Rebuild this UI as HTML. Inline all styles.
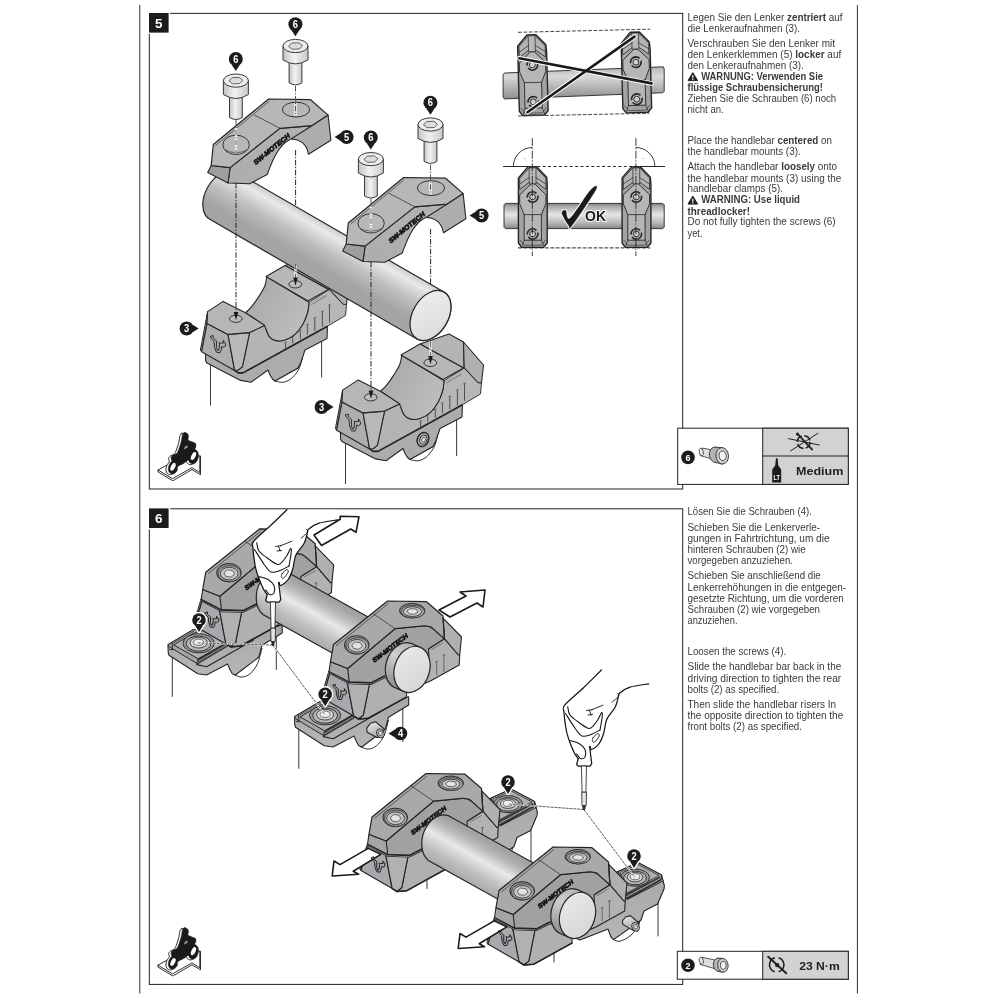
<!DOCTYPE html>
<html><head><meta charset="utf-8"><title>Montage</title>
<style>html,body{margin:0;padding:0;background:#fff}svg{display:block;will-change:transform}text{font-family:"Liberation Sans",sans-serif}</style>
</head><body>
<svg width="1000" height="1000" viewBox="0 0 1000 1000">
<rect width="1000" height="1000" fill="#fff"/>
<!-- p10_frame.py -->
<line x1="139.8" y1="5" x2="139.8" y2="993.5" stroke="#333" stroke-width="1"/>
<line x1="857.4" y1="5" x2="857.4" y2="993.5" stroke="#333" stroke-width="1"/>
<rect x="149.3" y="13.4" width="533.4" height="475.6" fill="#fff" stroke="#222" stroke-width="1"/>
<rect x="149.3" y="508.8" width="533.4" height="475.6" fill="#fff" stroke="#222" stroke-width="1"/>
<!-- p20_box5.py -->
<defs>
<linearGradient id="gTube5" gradientUnits="userSpaceOnUse" x1="340" y1="216" x2="313" y2="263">
<stop offset="0" stop-color="#a3a3a5"/><stop offset="0.16" stop-color="#b8b8ba"/><stop offset="0.39" stop-color="#e9e9eb"/><stop offset="0.68" stop-color="#bfbfc1"/><stop offset="1" stop-color="#a4a4a6"/></linearGradient>
<linearGradient id="gTubeEnd" x1="0" y1="0" x2="1" y2="1"><stop offset="0" stop-color="#eeeeef"/><stop offset="1" stop-color="#dadadc"/></linearGradient>
<linearGradient id="gSaddle" x1="0" y1="0" x2="1" y2="0.6"><stop offset="0" stop-color="#a6a6a9"/><stop offset="1" stop-color="#bdbdc0"/></linearGradient>
<linearGradient id="gSide" x1="0" y1="1" x2="1" y2="0"><stop offset="0" stop-color="#b2b2b5"/><stop offset="1" stop-color="#b8b8bb"/></linearGradient>
<linearGradient id="gClampF" x1="0" y1="1" x2="1" y2="0"><stop offset="0" stop-color="#adadb0"/><stop offset="1" stop-color="#b3b3b6"/></linearGradient>
<linearGradient id="gScrew" x1="0" y1="0" x2="1" y2="0"><stop offset="0" stop-color="#c4c4c4"/><stop offset="0.45" stop-color="#f2f2f2"/><stop offset="1" stop-color="#c9c9c9"/></linearGradient>
</defs>
<line x1="295.6" y1="150.0" x2="295.6" y2="205.0" stroke="#262626" stroke-width="1.0" stroke-dasharray="5.5 1.6 1.2 1.6"/>
<line x1="430.6" y1="229.0" x2="430.6" y2="292.0" stroke="#262626" stroke-width="1.0" stroke-dasharray="5.5 1.6 1.2 1.6"/>
<g transform="translate(0.0 0.0)">
<line x1="210.5" y1="360" x2="210.5" y2="405.5" stroke="#262626" stroke-width="0.9"/>
<line x1="321.6" y1="332" x2="321.6" y2="377.5" stroke="#262626" stroke-width="0.9"/>
<path d="M275.0 381.0 C276.3 381.2 280.3 382.7 283.0 382.3 C285.7 381.9 288.7 380.5 291.0 378.8 C293.3 377.1 295.4 374.2 297.0 372.0 C298.6 369.8 299.4 367.9 300.3 365.5 C301.2 363.1 302.1 358.8 302.5 357.5 L298 368 Z" fill="#fff" stroke="#262626" stroke-width="0.95" stroke-linejoin="round" stroke-linecap="round" />
<polygon points="205.4,347.1 205.6,360.7 207.0,363.1 240.6,380.4 251.0,382.3 268.0,370.0 270.0,375.0 272.5,379.0 275.0,381.0 298.0,368.0 301.0,362.0 302.5,357.5 305.0,350.0 327.0,338.5 327.5,325.0 300.0,330.0 250.0,350.0" fill="#acacaf" stroke="#262626" stroke-width="1.1" stroke-linejoin="round" />
<polygon points="285.0,265.5 314.0,255.5 328.5,263.5 329.2,289.5 328.5,289.5" fill="#b4b4b7" stroke="#262626" stroke-width="1.1" stroke-linejoin="round" />
<polygon points="328.5,263.5 348.5,286.5 346.5,304.5 343.0,304.3 329.2,289.5" fill="#b0b0b3" stroke="#262626" stroke-width="1.1" stroke-linejoin="round" />
<path d="M242.4 366.8 L249.6 332.6 L264.6 325.4  C264.7 325.8 264.6 325.7 265.4 327.6 C266.2 329.5 267.6 334.5 269.3 336.7 C271.0 338.9 273.2 340.1 275.8 340.6 C278.4 341.2 281.6 341.1 284.9 340.0 C288.1 338.9 292.3 336.8 295.3 334.1 C298.3 331.4 301.0 327.4 303.1 323.7 C305.2 320.0 306.7 315.6 307.7 312.0 C308.7 308.4 308.8 303.9 309.0 302.3 L329.2 289.5 L343.0 304.3 L346.5 304.5 L345.5 315.5 L327.0 326.5 L285 349.6 L243 372.8 L238 372.8 L234.6 370.4 Z" fill="url(#gSide)" stroke="#262626" stroke-width="0.9" stroke-linejoin="round"/>
<polyline points="234.6,370.4 238.2,372.9 243.0,372.9 285.0,349.8 327.0,326.5" fill="none" stroke="#262626" stroke-width="1.6" stroke-linejoin="round" stroke-linecap="round" />
<path d="M266.7 276.9 C266.4 278.4 266.1 282.8 264.8 286.0 C263.5 289.2 261.1 292.9 258.9 296.4 C256.7 299.9 253.7 304.1 251.4 306.8 C249.2 309.5 246.4 311.8 245.4 312.8 L264.6 325.4 C264.7 325.8 264.6 325.7 265.4 327.6 C266.2 329.5 267.6 334.5 269.3 336.7 C271.0 338.9 273.2 340.1 275.8 340.6 C278.4 341.2 281.6 341.1 284.9 340.0 C288.1 338.9 292.3 336.8 295.3 334.1 C298.3 331.4 301.0 327.4 303.1 323.7 C305.2 320.0 306.7 315.6 307.7 312.0 C308.7 308.4 308.8 303.9 309.0 302.3 Z" fill="url(#gSaddle)" stroke="#262626" stroke-width="1.1" stroke-linejoin="round" stroke-linecap="round" />
<polygon points="266.0,276.5 285.0,265.5 328.5,289.5 308.0,301.0" fill="#b7b7ba" stroke="#262626" stroke-width="1.1" stroke-linejoin="round" />
<polygon points="207.6,311.6 207.0,323.6 201.6,351.8 200.4,350.0" fill="#97979a" stroke="#262626" stroke-width="0.95" stroke-linejoin="round" />
<polygon points="207.0,323.6 228.0,334.4 234.6,370.4 201.6,351.8" fill="#aeaeb1" stroke="#262626" stroke-width="1.1" stroke-linejoin="round" />
<polygon points="228.0,334.4 249.6,332.6 242.4,366.8 238.2,370.2 234.6,370.4" fill="#b9b9bc" stroke="#262626" stroke-width="1.1" stroke-linejoin="round" />
<polygon points="207.6,311.6 223.2,301.4 245.4,312.8 264.6,325.4 249.6,332.6 228.0,334.4 207.0,323.6" fill="#b6b6b9" stroke="#262626" stroke-width="1.1" stroke-linejoin="round" />
<ellipse cx="235.8" cy="318.8" rx="6.3" ry="3.6" fill="#bdbdc0" stroke="#262626" stroke-width="0.9"/>
<ellipse cx="295.3" cy="284.3" rx="6.4" ry="3.7" fill="#bdbdc0" stroke="#262626" stroke-width="0.9"/>
<line x1="285.6" y1="343.4" x2="285.6" y2="349.0" stroke="#444" stroke-width="0.9"/>
<line x1="284.4" y1="343.1" x2="286.8" y2="342.1" stroke="#444" stroke-width="0.9"/>
<line x1="292.7" y1="337.6" x2="292.7" y2="343.2" stroke="#444" stroke-width="0.9"/>
<line x1="291.5" y1="337.3" x2="293.9" y2="336.3" stroke="#444" stroke-width="0.9"/>
<line x1="300.3" y1="331.7" x2="300.3" y2="339.3" stroke="#444" stroke-width="0.9"/>
<line x1="299.1" y1="331.4" x2="301.5" y2="330.4" stroke="#444" stroke-width="0.9"/>
<line x1="307.4" y1="325.2" x2="307.4" y2="334.8" stroke="#444" stroke-width="0.9"/>
<line x1="306.2" y1="324.9" x2="308.6" y2="323.9" stroke="#444" stroke-width="0.9"/>
<line x1="314.8" y1="318.7" x2="314.8" y2="330.9" stroke="#444" stroke-width="0.9"/>
<line x1="313.6" y1="318.4" x2="316.0" y2="317.4" stroke="#444" stroke-width="0.9"/>
<line x1="322.4" y1="312.2" x2="322.4" y2="327.0" stroke="#444" stroke-width="0.9"/>
<line x1="321.2" y1="311.9" x2="323.6" y2="310.9" stroke="#444" stroke-width="0.9"/>
<line x1="329.5" y1="305.7" x2="329.5" y2="322.4" stroke="#444" stroke-width="0.9"/>
<line x1="328.3" y1="305.4" x2="330.7" y2="304.4" stroke="#444" stroke-width="0.9"/>
<line x1="311.5" y1="304.5" x2="326.5" y2="295.5" stroke="#666" stroke-width="1.1" stroke-dasharray="1.2 0.7"/>
<polygon points="213.2,335.6 210.2,336.4 211.6,339.0 214.0,341.4 214.6,347.4 216.4,352.2 220.0,352.8 221.0,350.6 221.6,346.6 223.4,347.2 225.8,345.6 225.0,342.6 223.2,340.4 223.6,343.0 220.8,343.2 219.2,342.6 219.6,344.2 218.8,350.2 217.6,350.6 216.4,347.4 216.6,341.0 213.2,338.2" fill="none" stroke="#1f1f1f" stroke-width="0.9" stroke-linejoin="round" />
</g>
<g transform="translate(135.0 78.5)">
<line x1="210.5" y1="360" x2="210.5" y2="405.5" stroke="#262626" stroke-width="0.9"/>
<line x1="321.6" y1="332" x2="321.6" y2="377.5" stroke="#262626" stroke-width="0.9"/>
<path d="M275.0 381.0 C276.3 381.2 280.3 382.7 283.0 382.3 C285.7 381.9 288.7 380.5 291.0 378.8 C293.3 377.1 295.4 374.2 297.0 372.0 C298.6 369.8 299.4 367.9 300.3 365.5 C301.2 363.1 302.1 358.8 302.5 357.5 L298 368 Z" fill="#fff" stroke="#262626" stroke-width="0.95" stroke-linejoin="round" stroke-linecap="round" />
<polygon points="205.4,347.1 205.6,360.7 207.0,363.1 240.6,380.4 251.0,382.3 268.0,370.0 270.0,375.0 272.5,379.0 275.0,381.0 298.0,368.0 301.0,362.0 302.5,357.5 305.0,350.0 327.0,338.5 327.5,325.0 300.0,330.0 250.0,350.0" fill="#acacaf" stroke="#262626" stroke-width="1.1" stroke-linejoin="round" />
<ellipse cx="288.0" cy="361.0" rx="5.6" ry="7.2" transform="rotate(25 288.0 361.0)" fill="#b0b0b0" stroke="#262626" stroke-width="1.4"/>
<ellipse cx="288.4" cy="361.0" rx="3.5" ry="4.6" transform="rotate(25 288.0 361.0)" fill="#c6c6c6" stroke="#262626" stroke-width="0.9"/>
<ellipse cx="288.6" cy="361.0" rx="1.8" ry="2.5" transform="rotate(25 288.0 361.0)" fill="#e2e2e2" stroke="#262626" stroke-width="0.6"/>
<polygon points="285.0,265.5 314.0,255.5 328.5,263.5 329.2,289.5 328.5,289.5" fill="#b4b4b7" stroke="#262626" stroke-width="1.1" stroke-linejoin="round" />
<polygon points="328.5,263.5 348.5,286.5 346.5,304.5 343.0,304.3 329.2,289.5" fill="#b0b0b3" stroke="#262626" stroke-width="1.1" stroke-linejoin="round" />
<path d="M242.4 366.8 L249.6 332.6 L264.6 325.4  C264.7 325.8 264.6 325.7 265.4 327.6 C266.2 329.5 267.6 334.5 269.3 336.7 C271.0 338.9 273.2 340.1 275.8 340.6 C278.4 341.2 281.6 341.1 284.9 340.0 C288.1 338.9 292.3 336.8 295.3 334.1 C298.3 331.4 301.0 327.4 303.1 323.7 C305.2 320.0 306.7 315.6 307.7 312.0 C308.7 308.4 308.8 303.9 309.0 302.3 L329.2 289.5 L343.0 304.3 L346.5 304.5 L345.5 315.5 L327.0 326.5 L285 349.6 L243 372.8 L238 372.8 L234.6 370.4 Z" fill="url(#gSide)" stroke="#262626" stroke-width="0.9" stroke-linejoin="round"/>
<polyline points="234.6,370.4 238.2,372.9 243.0,372.9 285.0,349.8 327.0,326.5" fill="none" stroke="#262626" stroke-width="1.6" stroke-linejoin="round" stroke-linecap="round" />
<path d="M266.7 276.9 C266.4 278.4 266.1 282.8 264.8 286.0 C263.5 289.2 261.1 292.9 258.9 296.4 C256.7 299.9 253.7 304.1 251.4 306.8 C249.2 309.5 246.4 311.8 245.4 312.8 L264.6 325.4 C264.7 325.8 264.6 325.7 265.4 327.6 C266.2 329.5 267.6 334.5 269.3 336.7 C271.0 338.9 273.2 340.1 275.8 340.6 C278.4 341.2 281.6 341.1 284.9 340.0 C288.1 338.9 292.3 336.8 295.3 334.1 C298.3 331.4 301.0 327.4 303.1 323.7 C305.2 320.0 306.7 315.6 307.7 312.0 C308.7 308.4 308.8 303.9 309.0 302.3 Z" fill="url(#gSaddle)" stroke="#262626" stroke-width="1.1" stroke-linejoin="round" stroke-linecap="round" />
<polygon points="266.0,276.5 285.0,265.5 328.5,289.5 308.0,301.0" fill="#b7b7ba" stroke="#262626" stroke-width="1.1" stroke-linejoin="round" />
<polygon points="207.6,311.6 207.0,323.6 201.6,351.8 200.4,350.0" fill="#97979a" stroke="#262626" stroke-width="0.95" stroke-linejoin="round" />
<polygon points="207.0,323.6 228.0,334.4 234.6,370.4 201.6,351.8" fill="#aeaeb1" stroke="#262626" stroke-width="1.1" stroke-linejoin="round" />
<polygon points="228.0,334.4 249.6,332.6 242.4,366.8 238.2,370.2 234.6,370.4" fill="#b9b9bc" stroke="#262626" stroke-width="1.1" stroke-linejoin="round" />
<polygon points="207.6,311.6 223.2,301.4 245.4,312.8 264.6,325.4 249.6,332.6 228.0,334.4 207.0,323.6" fill="#b6b6b9" stroke="#262626" stroke-width="1.1" stroke-linejoin="round" />
<ellipse cx="235.8" cy="318.8" rx="6.3" ry="3.6" fill="#bdbdc0" stroke="#262626" stroke-width="0.9"/>
<ellipse cx="295.3" cy="284.3" rx="6.4" ry="3.7" fill="#bdbdc0" stroke="#262626" stroke-width="0.9"/>
<line x1="285.6" y1="343.4" x2="285.6" y2="349.0" stroke="#444" stroke-width="0.9"/>
<line x1="284.4" y1="343.1" x2="286.8" y2="342.1" stroke="#444" stroke-width="0.9"/>
<line x1="292.7" y1="337.6" x2="292.7" y2="343.2" stroke="#444" stroke-width="0.9"/>
<line x1="291.5" y1="337.3" x2="293.9" y2="336.3" stroke="#444" stroke-width="0.9"/>
<line x1="300.3" y1="331.7" x2="300.3" y2="339.3" stroke="#444" stroke-width="0.9"/>
<line x1="299.1" y1="331.4" x2="301.5" y2="330.4" stroke="#444" stroke-width="0.9"/>
<line x1="307.4" y1="325.2" x2="307.4" y2="334.8" stroke="#444" stroke-width="0.9"/>
<line x1="306.2" y1="324.9" x2="308.6" y2="323.9" stroke="#444" stroke-width="0.9"/>
<line x1="314.8" y1="318.7" x2="314.8" y2="330.9" stroke="#444" stroke-width="0.9"/>
<line x1="313.6" y1="318.4" x2="316.0" y2="317.4" stroke="#444" stroke-width="0.9"/>
<line x1="322.4" y1="312.2" x2="322.4" y2="327.0" stroke="#444" stroke-width="0.9"/>
<line x1="321.2" y1="311.9" x2="323.6" y2="310.9" stroke="#444" stroke-width="0.9"/>
<line x1="329.5" y1="305.7" x2="329.5" y2="322.4" stroke="#444" stroke-width="0.9"/>
<line x1="328.3" y1="305.4" x2="330.7" y2="304.4" stroke="#444" stroke-width="0.9"/>
<line x1="311.5" y1="304.5" x2="326.5" y2="295.5" stroke="#666" stroke-width="1.1" stroke-dasharray="1.2 0.7"/>
<polygon points="213.2,335.6 210.2,336.4 211.6,339.0 214.0,341.4 214.6,347.4 216.4,352.2 220.0,352.8 221.0,350.6 221.6,346.6 223.4,347.2 225.8,345.6 225.0,342.6 223.2,340.4 223.6,343.0 220.8,343.2 219.2,342.6 219.6,344.2 218.8,350.2 217.6,350.6 216.4,347.4 216.6,341.0 213.2,338.2" fill="none" stroke="#1f1f1f" stroke-width="0.9" stroke-linejoin="round" />
</g>
<path d="M236.8 172.5 L444.0 292.1 A17.8 27.0 30 0 1 417.0 338.9 L209.8 219.3 A17.8 27.0 30 0 1 236.8 172.5 Z" fill="url(#gTube5)" stroke="#262626" stroke-width="1.2"/><ellipse cx="430.5" cy="315.5" rx="17.8" ry="27.0" transform="rotate(30 430.5 315.5)" fill="url(#gTubeEnd)" stroke="#262626" stroke-width="1.2"/>
<line x1="236.0" y1="183.0" x2="236.0" y2="313.5" stroke="#262626" stroke-width="1.0" stroke-dasharray="5.5 1.6 1.2 1.6"/><polygon points="233.7,312.0 238.3,312.0 236.0,320.3" fill="#1a1a1a"/>
<line x1="295.5" y1="266" x2="295.5" y2="281" stroke="#fff" stroke-width="2"/>
<line x1="295.5" y1="264.0" x2="295.5" y2="279.0" stroke="#666" stroke-width="1.0" stroke-dasharray="5.5 1.6 1.2 1.6"/><polygon points="293.2,277.5 297.8,277.5 295.5,285.8" fill="#1a1a1a"/>
<line x1="371.0" y1="262.0" x2="371.0" y2="392.0" stroke="#262626" stroke-width="1.0" stroke-dasharray="5.5 1.6 1.2 1.6"/><polygon points="368.7,390.5 373.3,390.5 371.0,398.8" fill="#1a1a1a"/>
<line x1="430.5" y1="342" x2="430.5" y2="359" stroke="#fff" stroke-width="2"/>
<line x1="430.5" y1="342.0" x2="430.5" y2="357.5" stroke="#777" stroke-width="1.0" stroke-dasharray="5.5 1.6 1.2 1.6"/><polygon points="428.2,356.0 432.8,356.0 430.5,364.3" fill="#1a1a1a"/>
<g transform="translate(0.0 0.0)">
<path d="M312.0 125.6 L328.1 115.1 L330.9 140.3 L308.5 154.3 L308.5 154.3 C308.2 153.3 307.6 150.1 306.7 148.3 C305.7 146.4 304.5 144.5 302.9 143.1 C301.3 141.7 299.3 140.6 297.3 139.9 C295.3 139.2 292.0 139.1 291.0 138.9 Z" fill="#adadb0" stroke="#262626" stroke-width="1.1" stroke-linejoin="round" stroke-linecap="round" />
<path d="M267.2 174.6 L249.7 183.7 L228.0 183.0 L230.1 167.6 L279.8 128.4 L312.0 125.6 L291.0 138.9 L291.0 138.9 C289.8 139.7 286.1 141.5 284.0 143.5 C281.9 145.5 280.0 148.0 278.1 150.8 C276.3 153.6 274.3 157.4 272.8 160.6 C271.3 163.8 269.8 167.8 268.9 170.1 C267.9 172.5 267.5 173.9 267.2 174.6 Z" fill="url(#gClampF)" stroke="#262626" stroke-width="1.1" stroke-linejoin="round" stroke-linecap="round" />
<polygon points="211.2,165.5 230.1,167.6 228.0,183.0 207.7,172.5" fill="#9e9ea1" stroke="#262626" stroke-width="1.1" stroke-linejoin="round" />
<polygon points="213.3,144.5 268.6,99.0 310.6,99.7 328.1,115.1 312.0,125.6 279.8,128.4 230.1,167.6 211.2,165.5" fill="#b7b7ba" stroke="#262626" stroke-width="1.2" stroke-linejoin="round" />
<polyline points="254.6,115.1 280.1,128.4" fill="none" stroke="#262626" stroke-width="0.7" stroke-linejoin="round" stroke-linecap="round" />
<polyline points="215.7,145.5 268.9,101.5" fill="none" stroke="#262626" stroke-width="0.6" stroke-linejoin="round" stroke-linecap="round" />
<ellipse cx="236.1" cy="144.8" rx="13.2" ry="9.6" fill="#b7b7ba" stroke="#262626" stroke-width="0.9"/>
<path d="M225.1 150.0 A13.2 9.6 0 0 0 247.1 150.0 A14 7 0 0 1 225.1 150.0 Z" fill="#cfcfd2" stroke="#262626" stroke-width="0.6"/>
<ellipse cx="296.0" cy="109.6" rx="13.6" ry="7.4" fill="#b7b7ba" stroke="#262626" stroke-width="0.9"/>
<text x="0" y="0" transform="translate(255.7 165.1) rotate(-39.4)" font-size="6.6" font-weight="bold" font-style="italic" fill="#161616" stroke="#161616" stroke-width="0.7" textLength="45" lengthAdjust="spacingAndGlyphs">SW-MOTECH</text>
</g>
<g transform="translate(135.0 78.5)">
<path d="M312.0 125.6 L328.1 115.1 L330.9 140.3 L308.5 154.3 L308.5 154.3 C308.2 153.3 307.6 150.1 306.7 148.3 C305.7 146.4 304.5 144.5 302.9 143.1 C301.3 141.7 299.3 140.6 297.3 139.9 C295.3 139.2 292.0 139.1 291.0 138.9 Z" fill="#adadb0" stroke="#262626" stroke-width="1.1" stroke-linejoin="round" stroke-linecap="round" />
<path d="M267.2 174.6 L249.7 183.7 L228.0 183.0 L230.1 167.6 L279.8 128.4 L312.0 125.6 L291.0 138.9 L291.0 138.9 C289.8 139.7 286.1 141.5 284.0 143.5 C281.9 145.5 280.0 148.0 278.1 150.8 C276.3 153.6 274.3 157.4 272.8 160.6 C271.3 163.8 269.8 167.8 268.9 170.1 C267.9 172.5 267.5 173.9 267.2 174.6 Z" fill="url(#gClampF)" stroke="#262626" stroke-width="1.1" stroke-linejoin="round" stroke-linecap="round" />
<polygon points="211.2,165.5 230.1,167.6 228.0,183.0 207.7,172.5" fill="#9e9ea1" stroke="#262626" stroke-width="1.1" stroke-linejoin="round" />
<polygon points="213.3,144.5 268.6,99.0 310.6,99.7 328.1,115.1 312.0,125.6 279.8,128.4 230.1,167.6 211.2,165.5" fill="#b7b7ba" stroke="#262626" stroke-width="1.2" stroke-linejoin="round" />
<polyline points="254.6,115.1 280.1,128.4" fill="none" stroke="#262626" stroke-width="0.7" stroke-linejoin="round" stroke-linecap="round" />
<polyline points="215.7,145.5 268.9,101.5" fill="none" stroke="#262626" stroke-width="0.6" stroke-linejoin="round" stroke-linecap="round" />
<ellipse cx="236.1" cy="144.8" rx="13.2" ry="9.6" fill="#b7b7ba" stroke="#262626" stroke-width="0.9"/>
<path d="M225.1 150.0 A13.2 9.6 0 0 0 247.1 150.0 A14 7 0 0 1 225.1 150.0 Z" fill="#cfcfd2" stroke="#262626" stroke-width="0.6"/>
<ellipse cx="296.0" cy="109.6" rx="13.6" ry="7.4" fill="#b7b7ba" stroke="#262626" stroke-width="0.9"/>
<text x="0" y="0" transform="translate(255.7 165.1) rotate(-39.4)" font-size="6.6" font-weight="bold" font-style="italic" fill="#161616" stroke="#161616" stroke-width="0.7" textLength="45" lengthAdjust="spacingAndGlyphs">SW-MOTECH</text>
</g>
<line x1="236.0" y1="128.0" x2="236.0" y2="153.0" stroke="#fff" stroke-width="2.2"/>
<line x1="295.5" y1="103.0" x2="295.5" y2="116.0" stroke="#fff" stroke-width="2.2"/>
<line x1="236.0" y1="120.0" x2="236.0" y2="154.0" stroke="#555" stroke-width="1.0" stroke-dasharray="5.5 1.6 1.2 1.6"/>
<line x1="295.5" y1="86.0" x2="295.5" y2="116.0" stroke="#555" stroke-width="1.0" stroke-dasharray="5.5 1.6 1.2 1.6"/>
<path d="M229.5 96.0 L229.5 117.5 Q235.9 121.5 242.3 117.5 L242.3 96.0 Z" fill="url(#gScrew)" stroke="#262626" stroke-width="0.9"/><path d="M223.4 80.5 L223.4 94.5 Q235.9 102.5 248.4 94.5 L248.4 80.5 Z" fill="url(#gScrew)" stroke="#262626" stroke-width="0.9"/><ellipse cx="235.9" cy="80.6" rx="12.5" ry="6.6" fill="#ededed" stroke="#262626" stroke-width="0.9"/><polygon points="228.9,80.8 232.3,77.6 239.3,77.4 242.9,80.2 239.7,83.6 232.5,83.8" fill="#dcdcdc" stroke="#444" stroke-width="0.8" stroke-linejoin="round" />
<path d="M289.1 61.4 L289.1 82.9 Q295.5 86.9 301.9 82.9 L301.9 61.4 Z" fill="url(#gScrew)" stroke="#262626" stroke-width="0.9"/><path d="M283.0 45.9 L283.0 59.9 Q295.5 67.9 308.0 59.9 L308.0 45.9 Z" fill="url(#gScrew)" stroke="#262626" stroke-width="0.9"/><ellipse cx="295.5" cy="46.0" rx="12.5" ry="6.6" fill="#ededed" stroke="#262626" stroke-width="0.9"/><polygon points="288.5,46.2 291.9,43.0 298.9,42.8 302.5,45.6 299.3,49.0 292.1,49.2" fill="#dcdcdc" stroke="#444" stroke-width="0.8" stroke-linejoin="round" />
<circle cx="235.8" cy="59.0" r="7.0" fill="#1c1c1c"/><polygon points="239.9,64.7 235.8,71.0 231.7,64.7" fill="#1c1c1c"/><text x="235.8" y="62.5" font-size="10" font-weight="bold" fill="#fff" text-anchor="middle" textLength="5.2" lengthAdjust="spacingAndGlyphs">6</text>
<circle cx="295.4" cy="24.2" r="7.0" fill="#1c1c1c"/><polygon points="299.5,29.9 295.4,36.2 291.3,29.9" fill="#1c1c1c"/><text x="295.4" y="27.7" font-size="10" font-weight="bold" fill="#fff" text-anchor="middle" textLength="5.2" lengthAdjust="spacingAndGlyphs">6</text>
<circle cx="346.6" cy="137.0" r="7.0" fill="#1c1c1c"/><polygon points="340.9,141.1 334.6,137.0 340.9,132.9" fill="#1c1c1c"/><text x="346.6" y="140.5" font-size="10" font-weight="bold" fill="#fff" text-anchor="middle" textLength="5.2" lengthAdjust="spacingAndGlyphs">5</text>
<circle cx="186.6" cy="328.5" r="7.0" fill="#1c1c1c"/><polygon points="192.3,324.4 198.6,328.5 192.3,332.6" fill="#1c1c1c"/><text x="186.6" y="332.0" font-size="10" font-weight="bold" fill="#fff" text-anchor="middle" textLength="5.2" lengthAdjust="spacingAndGlyphs">3</text>
<line x1="371.0" y1="206.5" x2="371.0" y2="231.5" stroke="#fff" stroke-width="2.2"/>
<line x1="430.5" y1="181.5" x2="430.5" y2="194.5" stroke="#fff" stroke-width="2.2"/>
<line x1="371.0" y1="198.5" x2="371.0" y2="232.5" stroke="#555" stroke-width="1.0" stroke-dasharray="5.5 1.6 1.2 1.6"/>
<line x1="430.5" y1="164.5" x2="430.5" y2="194.5" stroke="#555" stroke-width="1.0" stroke-dasharray="5.5 1.6 1.2 1.6"/>
<path d="M364.5 174.5 L364.5 196.0 Q370.9 200.0 377.3 196.0 L377.3 174.5 Z" fill="url(#gScrew)" stroke="#262626" stroke-width="0.9"/><path d="M358.4 159.0 L358.4 173.0 Q370.9 181.0 383.4 173.0 L383.4 159.0 Z" fill="url(#gScrew)" stroke="#262626" stroke-width="0.9"/><ellipse cx="370.9" cy="159.1" rx="12.5" ry="6.6" fill="#ededed" stroke="#262626" stroke-width="0.9"/><polygon points="363.9,159.3 367.3,156.1 374.3,155.9 377.9,158.7 374.7,162.1 367.5,162.3" fill="#dcdcdc" stroke="#444" stroke-width="0.8" stroke-linejoin="round" />
<path d="M424.1 139.9 L424.1 161.4 Q430.5 165.4 436.9 161.4 L436.9 139.9 Z" fill="url(#gScrew)" stroke="#262626" stroke-width="0.9"/><path d="M418.0 124.4 L418.0 138.4 Q430.5 146.4 443.0 138.4 L443.0 124.4 Z" fill="url(#gScrew)" stroke="#262626" stroke-width="0.9"/><ellipse cx="430.5" cy="124.5" rx="12.5" ry="6.6" fill="#ededed" stroke="#262626" stroke-width="0.9"/><polygon points="423.5,124.7 426.9,121.5 433.9,121.3 437.5,124.1 434.3,127.5 427.1,127.7" fill="#dcdcdc" stroke="#444" stroke-width="0.8" stroke-linejoin="round" />
<circle cx="370.8" cy="137.5" r="7.0" fill="#1c1c1c"/><polygon points="374.9,143.2 370.8,149.5 366.7,143.2" fill="#1c1c1c"/><text x="370.8" y="141.0" font-size="10" font-weight="bold" fill="#fff" text-anchor="middle" textLength="5.2" lengthAdjust="spacingAndGlyphs">6</text>
<circle cx="430.4" cy="102.7" r="7.0" fill="#1c1c1c"/><polygon points="434.5,108.4 430.4,114.7 426.3,108.4" fill="#1c1c1c"/><text x="430.4" y="106.2" font-size="10" font-weight="bold" fill="#fff" text-anchor="middle" textLength="5.2" lengthAdjust="spacingAndGlyphs">6</text>
<circle cx="481.6" cy="215.5" r="7.0" fill="#1c1c1c"/><polygon points="475.9,219.6 469.6,215.5 475.9,211.4" fill="#1c1c1c"/><text x="481.6" y="219.0" font-size="10" font-weight="bold" fill="#fff" text-anchor="middle" textLength="5.2" lengthAdjust="spacingAndGlyphs">5</text>
<circle cx="321.6" cy="407.0" r="7.0" fill="#1c1c1c"/><polygon points="327.3,402.9 333.6,407.0 327.3,411.1" fill="#1c1c1c"/><text x="321.6" y="410.5" font-size="10" font-weight="bold" fill="#fff" text-anchor="middle" textLength="5.2" lengthAdjust="spacingAndGlyphs">3</text>
<g transform="translate(0.0 0.0)"><polygon points="158.0,470.0 165.0,466.1 192.0,455.0 199.8,456.0 200.5,456.0 200.5,474.7 192.0,469.6 173.4,480.5 172.3,480.5 158.0,471.9" fill="#fff" stroke="#1a1a1a" stroke-width="0.9" stroke-linejoin="round" /><polyline points="158.0,470.0 172.5,478.7 192.0,467.7 199.8,472.6 199.8,456.0" fill="none" stroke="#1a1a1a" stroke-width="0.9" stroke-linejoin="round" stroke-linecap="round" /><path d="M181.9 433.3 C182.7 433.1 184.3 433.7 185.0 434.3 C185.7 435.0 186.0 436.1 186.1 437.1 C186.2 438.2 185.2 439.8 185.7 440.6 C186.3 441.5 188.4 442.0 189.6 442.5 C190.8 443.1 192.5 443.3 193.1 444.1 C193.7 445.0 193.6 446.7 193.4 447.6 C193.3 448.6 192.1 449.0 192.4 449.7 C192.7 450.5 194.6 451.0 195.2 452.2 C195.8 453.4 196.2 455.5 196.0 457.1 C195.9 458.7 195.2 460.7 194.4 462.0 C193.5 463.3 192.1 464.4 191.0 464.7 C189.9 464.9 188.4 464.2 187.5 463.5 C186.6 462.9 186.8 460.9 185.7 460.9 C184.7 461.0 182.9 463.1 181.2 464.1 C179.5 465.1 176.7 465.7 175.6 466.9 C174.5 468.1 175.4 469.8 174.8 471.1 C174.1 472.4 172.7 474.0 171.5 474.5 C170.3 474.9 168.5 474.6 167.5 473.8 C166.6 473.0 166.0 471.2 165.9 469.7 C165.9 468.2 166.5 466.1 167.1 464.8 C167.6 463.5 169.0 463.0 169.3 462.0 C169.6 460.9 168.4 459.5 168.6 458.5 C168.8 457.4 169.8 456.4 170.7 455.7 C171.6 455.0 173.3 455.2 174.2 454.3 C175.1 453.4 175.6 451.8 176.3 450.1 C177.0 448.3 177.9 445.7 178.4 443.8 C178.9 441.9 179.2 440.3 179.4 438.9 C179.7 437.5 179.7 436.3 180.1 435.4 C180.6 434.5 181.1 433.5 181.9 433.3Z" fill="#fff" stroke="#1a1a1a" stroke-width="0.9" stroke-linejoin="round" stroke-linecap="round" /><path d="M184.3 432.6 C185.1 432.4 186.7 433.0 187.4 433.6 C188.1 434.3 188.4 435.4 188.5 436.4 C188.6 437.5 187.6 439.1 188.1 439.9 C188.7 440.8 190.8 441.3 192.0 441.8 C193.2 442.4 194.9 442.6 195.5 443.4 C196.1 444.3 196.0 446.0 195.8 446.9 C195.7 447.9 194.5 448.3 194.8 449.0 C195.1 449.8 197.0 450.3 197.6 451.5 C198.2 452.7 198.6 454.8 198.4 456.4 C198.3 458.0 197.6 460.0 196.8 461.3 C195.9 462.6 194.5 463.7 193.4 464.0 C192.3 464.2 190.8 463.5 189.9 462.8 C189.0 462.2 189.2 460.2 188.1 460.2 C187.1 460.3 185.3 462.4 183.6 463.4 C181.9 464.4 179.1 465.0 178.0 466.2 C176.9 467.4 177.8 469.1 177.2 470.4 C176.5 471.7 175.1 473.3 173.9 473.8 C172.7 474.2 170.9 473.9 169.9 473.1 C169.0 472.3 168.4 470.5 168.3 469.0 C168.3 467.5 168.9 465.4 169.5 464.1 C170.0 462.8 171.4 462.3 171.7 461.3 C172.0 460.2 170.8 458.8 171.0 457.8 C171.2 456.7 172.2 455.7 173.1 455.0 C174.0 454.3 175.7 454.5 176.6 453.6 C177.5 452.7 178.0 451.1 178.7 449.4 C179.4 447.6 180.3 445.0 180.8 443.1 C181.3 441.2 181.6 439.6 181.8 438.2 C182.1 436.8 182.1 435.6 182.5 434.7 C183.0 433.8 183.5 432.8 184.3 432.6Z" fill="#1a1a1a" stroke="#1a1a1a" stroke-width="0.5" stroke-linejoin="round" stroke-linecap="round" /><ellipse cx="173.0" cy="466.8" rx="2.1" ry="4.2" transform="rotate(27 173.0 466.8)" fill="#fff"/><ellipse cx="193.5" cy="456.0" rx="2.1" ry="4.3" transform="rotate(24 193.5 456.0)" fill="#fff"/><polyline points="184.6,448.8 185.7,446.2 187.4,446.5 186.7,447.9 185.3,447.9" fill="none" stroke="#fff" stroke-width="0.6" stroke-linejoin="round" stroke-linecap="round" /></g>
<!-- p30_insets.py -->
<defs>
<linearGradient id="gTubeH" x1="0" y1="0" x2="0" y2="1"><stop offset="0" stop-color="#7c7c7c"/><stop offset="0.12" stop-color="#aaaaaa"/><stop offset="0.45" stop-color="#e6e6e8"/><stop offset="0.8" stop-color="#b2b2b4"/><stop offset="1" stop-color="#858585"/></linearGradient>
<linearGradient id="gTubeH2" x1="0" y1="0" x2="0" y2="1"><stop offset="0" stop-color="#b4b4b6"/><stop offset="0.3" stop-color="#d9d9db"/><stop offset="1" stop-color="#8e8e90"/></linearGradient>
</defs>
<polygon points="504.4,73.0 663.3,66.8 664.2,69.0 664.2,91.5 662.4,92.8 504.4,98.9 503.1,96.9 503.1,74.8" fill="url(#gTubeH2)" stroke="#262626" stroke-width="0.9" stroke-linejoin="round" />
<g transform="rotate(-1.5 532 75)"><polygon points="527.9,34.8 536.9,34.8 546.7,45.1 547.2,51.9 547.2,110.9 543.6,115.3 521.6,115.3 518.4,110.9 518.4,45.8" fill="#a3a3a6" stroke="#262626" stroke-width="1.4" stroke-linejoin="round" /><polygon points="529.2,35.7 536.0,35.7 545.9,46.1 545.9,57.3 536.8,50.5 528.8,50.5 519.7,57.3 519.7,46.1" fill="#b4b4b7" stroke="#262626" stroke-width="0.8" stroke-linejoin="round" /><polygon points="529.2,35.7 536.0,35.7 536.0,51.9 529.2,51.9" fill="#b9b9bc" stroke="#262626" stroke-width="0.7" stroke-linejoin="round" /><polyline points="519.7,51.9 529.2,45.6" fill="none" stroke="#262626" stroke-width="0.7" stroke-linejoin="round" stroke-linecap="round" /><polyline points="545.9,51.9 536.0,45.6" fill="none" stroke="#262626" stroke-width="0.7" stroke-linejoin="round" stroke-linecap="round" /><polygon points="531.0,51.9 535.0,51.9 545.9,62.7 545.9,71.7 541.4,82.5 541.4,108.1 524.2,108.1 524.2,82.5 519.7,71.7 519.7,62.7" fill="#b6b6b9" stroke="#262626" stroke-width="0.9" stroke-linejoin="round" /><polyline points="524.2,82.5 541.4,82.5" fill="none" stroke="#262626" stroke-width="0.8" stroke-linejoin="round" stroke-linecap="round" /><polyline points="522.0,114.0 524.2,108.1" fill="none" stroke="#262626" stroke-width="0.7" stroke-linejoin="round" stroke-linecap="round" /><polyline points="543.6,114.0 541.4,108.1" fill="none" stroke="#262626" stroke-width="0.7" stroke-linejoin="round" stroke-linecap="round" /><polyline points="520.2,108.1 524.2,113.1 541.4,113.1 545.4,108.1" fill="none" stroke="#262626" stroke-width="0.6" stroke-linejoin="round" stroke-linecap="round" /><circle cx="532.6" cy="64.9" r="5.3" fill="#b6b6b9" stroke="#262626" stroke-width="1.6" stroke-dasharray="13 2.5"/><circle cx="532.6" cy="64.9" r="2.9" fill="#d2d2d4" stroke="#262626" stroke-width="0.9"/><circle cx="532.6" cy="101.9" r="5.3" fill="#b6b6b9" stroke="#262626" stroke-width="1.6" stroke-dasharray="13 2.5"/><circle cx="532.6" cy="101.9" r="2.9" fill="#d2d2d4" stroke="#262626" stroke-width="0.9"/></g>
<g transform="rotate(-1.5 636 72)"><polygon points="631.4,32.1 640.4,32.1 650.1,42.4 650.7,49.2 650.7,108.2 647.1,112.6 625.1,112.6 621.9,108.2 621.9,43.1" fill="#a3a3a6" stroke="#262626" stroke-width="1.4" stroke-linejoin="round" /><polygon points="632.7,33.0 639.5,33.0 649.4,43.4 649.4,54.6 640.2,47.8 632.3,47.8 623.1,54.6 623.1,43.4" fill="#b4b4b7" stroke="#262626" stroke-width="0.8" stroke-linejoin="round" /><polygon points="632.7,33.0 639.5,33.0 639.5,49.2 632.7,49.2" fill="#b9b9bc" stroke="#262626" stroke-width="0.7" stroke-linejoin="round" /><polyline points="623.1,49.2 632.7,42.9" fill="none" stroke="#262626" stroke-width="0.7" stroke-linejoin="round" stroke-linecap="round" /><polyline points="649.4,49.2 639.5,42.9" fill="none" stroke="#262626" stroke-width="0.7" stroke-linejoin="round" stroke-linecap="round" /><polygon points="634.5,49.2 638.4,49.2 649.4,60.0 649.4,69.0 644.9,79.8 644.9,105.4 627.6,105.4 627.6,79.8 623.1,69.0 623.1,60.0" fill="#b6b6b9" stroke="#262626" stroke-width="0.9" stroke-linejoin="round" /><polyline points="627.6,79.8 644.9,79.8" fill="none" stroke="#262626" stroke-width="0.8" stroke-linejoin="round" stroke-linecap="round" /><polyline points="625.5,111.3 627.6,105.4" fill="none" stroke="#262626" stroke-width="0.7" stroke-linejoin="round" stroke-linecap="round" /><polyline points="647.1,111.3 644.9,105.4" fill="none" stroke="#262626" stroke-width="0.7" stroke-linejoin="round" stroke-linecap="round" /><polyline points="623.7,105.4 627.6,110.4 644.9,110.4 648.9,105.4" fill="none" stroke="#262626" stroke-width="0.6" stroke-linejoin="round" stroke-linecap="round" /><circle cx="636.1" cy="62.2" r="5.3" fill="#b6b6b9" stroke="#262626" stroke-width="1.6" stroke-dasharray="13 2.5"/><circle cx="636.1" cy="62.2" r="2.9" fill="#d2d2d4" stroke="#262626" stroke-width="0.9"/><circle cx="636.1" cy="99.2" r="5.3" fill="#b6b6b9" stroke="#262626" stroke-width="1.6" stroke-dasharray="13 2.5"/><circle cx="636.1" cy="99.2" r="2.9" fill="#d2d2d4" stroke="#262626" stroke-width="0.9"/></g>
<polyline points="518.4,32.3 649.8,29.2" fill="none" stroke="#444" stroke-width="1.0" stroke-linejoin="round" stroke-linecap="round" stroke-dasharray="3 2.4"/>
<polyline points="518.4,116.0 648.9,113.3" fill="none" stroke="#444" stroke-width="1.0" stroke-linejoin="round" stroke-linecap="round" stroke-dasharray="3 2.4"/>
<line x1="519.3" y1="58.2" x2="651.6" y2="83.4" stroke="#fff" stroke-width="4.6" stroke-linecap="round"/>
<line x1="527.4" y1="112.2" x2="634.5" y2="36.6" stroke="#fff" stroke-width="4.6" stroke-linecap="round"/>
<line x1="519.3" y1="58.2" x2="651.6" y2="83.4" stroke="#1a1a1a" stroke-width="2.6" stroke-linecap="round"/>
<line x1="527.4" y1="112.2" x2="634.5" y2="36.6" stroke="#1a1a1a" stroke-width="2.6" stroke-linecap="round"/>
<polygon points="505.4,203.4 662.7,203.4 664.2,204.9 664.2,227.2 662.7,228.6 505.4,228.6 504.0,227.2 504.0,204.9" fill="url(#gTubeH)" stroke="#262626" stroke-width="0.9" stroke-linejoin="round" />
<polygon points="527.9,166.9 536.9,166.9 546.7,177.2 547.2,184.0 547.2,243.0 543.6,247.4 521.6,247.4 518.4,243.0 518.4,177.9" fill="#a3a3a6" stroke="#262626" stroke-width="1.4" stroke-linejoin="round" /><polygon points="529.2,167.8 536.0,167.8 545.9,178.2 545.9,189.4 536.8,182.6 528.8,182.6 519.7,189.4 519.7,178.2" fill="#b4b4b7" stroke="#262626" stroke-width="0.8" stroke-linejoin="round" /><polygon points="529.2,167.8 536.0,167.8 536.0,184.0 529.2,184.0" fill="#b9b9bc" stroke="#262626" stroke-width="0.7" stroke-linejoin="round" /><polyline points="519.7,184.0 529.2,177.7" fill="none" stroke="#262626" stroke-width="0.7" stroke-linejoin="round" stroke-linecap="round" /><polyline points="545.9,184.0 536.0,177.7" fill="none" stroke="#262626" stroke-width="0.7" stroke-linejoin="round" stroke-linecap="round" /><polygon points="531.0,184.0 535.0,184.0 545.9,194.8 545.9,203.8 541.4,214.6 541.4,240.2 524.2,240.2 524.2,214.6 519.7,203.8 519.7,194.8" fill="#b6b6b9" stroke="#262626" stroke-width="0.9" stroke-linejoin="round" /><polyline points="524.2,214.6 541.4,214.6" fill="none" stroke="#262626" stroke-width="0.8" stroke-linejoin="round" stroke-linecap="round" /><polyline points="522.0,246.1 524.2,240.2" fill="none" stroke="#262626" stroke-width="0.7" stroke-linejoin="round" stroke-linecap="round" /><polyline points="543.6,246.1 541.4,240.2" fill="none" stroke="#262626" stroke-width="0.7" stroke-linejoin="round" stroke-linecap="round" /><polyline points="520.2,240.2 524.2,245.2 541.4,245.2 545.4,240.2" fill="none" stroke="#262626" stroke-width="0.6" stroke-linejoin="round" stroke-linecap="round" /><circle cx="532.6" cy="197.0" r="5.3" fill="#b6b6b9" stroke="#262626" stroke-width="1.6" stroke-dasharray="13 2.5"/><circle cx="532.6" cy="197.0" r="2.9" fill="#d2d2d4" stroke="#262626" stroke-width="0.9"/><circle cx="532.6" cy="234.0" r="5.3" fill="#b6b6b9" stroke="#262626" stroke-width="1.6" stroke-dasharray="13 2.5"/><circle cx="532.6" cy="234.0" r="2.9" fill="#d2d2d4" stroke="#262626" stroke-width="0.9"/>
<polygon points="631.6,166.9 640.6,166.9 650.3,177.2 650.9,184.0 650.9,243.0 647.3,247.4 625.3,247.4 622.1,243.0 622.1,177.9" fill="#a3a3a6" stroke="#262626" stroke-width="1.4" stroke-linejoin="round" /><polygon points="632.9,167.8 639.7,167.8 649.6,178.2 649.6,189.4 640.4,182.6 632.5,182.6 623.3,189.4 623.3,178.2" fill="#b4b4b7" stroke="#262626" stroke-width="0.8" stroke-linejoin="round" /><polygon points="632.9,167.8 639.7,167.8 639.7,184.0 632.9,184.0" fill="#b9b9bc" stroke="#262626" stroke-width="0.7" stroke-linejoin="round" /><polyline points="623.3,184.0 632.9,177.7" fill="none" stroke="#262626" stroke-width="0.7" stroke-linejoin="round" stroke-linecap="round" /><polyline points="649.6,184.0 639.7,177.7" fill="none" stroke="#262626" stroke-width="0.7" stroke-linejoin="round" stroke-linecap="round" /><polygon points="634.7,184.0 638.6,184.0 649.6,194.8 649.6,203.8 645.1,214.6 645.1,240.2 627.8,240.2 627.8,214.6 623.3,203.8 623.3,194.8" fill="#b6b6b9" stroke="#262626" stroke-width="0.9" stroke-linejoin="round" /><polyline points="627.8,214.6 645.1,214.6" fill="none" stroke="#262626" stroke-width="0.8" stroke-linejoin="round" stroke-linecap="round" /><polyline points="625.7,246.1 627.8,240.2" fill="none" stroke="#262626" stroke-width="0.7" stroke-linejoin="round" stroke-linecap="round" /><polyline points="647.3,246.1 645.1,240.2" fill="none" stroke="#262626" stroke-width="0.7" stroke-linejoin="round" stroke-linecap="round" /><polyline points="623.9,240.2 627.8,245.2 645.1,245.2 649.1,240.2" fill="none" stroke="#262626" stroke-width="0.6" stroke-linejoin="round" stroke-linecap="round" /><circle cx="636.3" cy="197.0" r="5.3" fill="#b6b6b9" stroke="#262626" stroke-width="1.6" stroke-dasharray="13 2.5"/><circle cx="636.3" cy="197.0" r="2.9" fill="#d2d2d4" stroke="#262626" stroke-width="0.9"/><circle cx="636.3" cy="234.0" r="5.3" fill="#b6b6b9" stroke="#262626" stroke-width="1.6" stroke-dasharray="13 2.5"/><circle cx="636.3" cy="234.0" r="2.9" fill="#d2d2d4" stroke="#262626" stroke-width="0.9"/>
<line x1="503.1" y1="166.5" x2="537.3" y2="166.5" stroke="#262626" stroke-width="1"/>
<line x1="537.3" y1="166.5" x2="633.6" y2="166.5" stroke="#262626" stroke-width="1" stroke-dasharray="3 2.4"/>
<line x1="633.6" y1="166.5" x2="665.1" y2="166.5" stroke="#262626" stroke-width="1"/>
<polyline points="518.4,247.9 649.8,247.9" fill="none" stroke="#262626" stroke-width="1.0" stroke-linejoin="round" stroke-linecap="round" stroke-dasharray="3 2.4"/>
<line x1="532.3" y1="138.1" x2="532.3" y2="256.0" stroke="#262626" stroke-width="0.9" stroke-dasharray="8 1.6 1.4 1.6"/>
<line x1="635.9" y1="138.1" x2="635.9" y2="256.0" stroke="#262626" stroke-width="0.9" stroke-dasharray="8 1.6 1.4 1.6"/>
<path d="M513.3 166.5 A19 19 0 0 1 532.3 147.5" fill="none" stroke="#262626" stroke-width="0.9"/>
<circle cx="524.8" cy="158.5" r="0.6" fill="#888"/>
<path d="M635.9 147.5 A19 19 0 0 1 654.9 166.5" fill="none" stroke="#262626" stroke-width="0.9"/>
<circle cx="643.4" cy="158.5" r="0.6" fill="#888"/>
<path d="M562.0 213.2 C561.5 210.8 564.2 209.8 565.6 210.6 C566.9 211.5 566.1 221.6 570.2 218.2 C574.4 214.8 586.1 195.0 590.4 190.3 C594.7 185.6 598.8 184.0 595.8 189.8 C592.8 195.5 577.0 219.2 572.4 225.0 C567.8 230.9 570.2 227.0 568.4 225.0 C566.7 223.1 562.4 215.6 562.0 213.2Z" fill="#1a1a1a" stroke="#fff" stroke-width="2.4" stroke-linejoin="round" stroke-linecap="round" />
<path d="M562.0 213.2 C561.5 210.8 564.2 209.8 565.6 210.6 C566.9 211.5 566.1 221.6 570.2 218.2 C574.4 214.8 586.1 195.0 590.4 190.3 C594.7 185.6 598.8 184.0 595.8 189.8 C592.8 195.5 577.0 219.2 572.4 225.0 C567.8 230.9 570.2 227.0 568.4 225.0 C566.7 223.1 562.4 215.6 562.0 213.2Z" fill="#1a1a1a" stroke="#1a1a1a" stroke-width="0.4" stroke-linejoin="round" stroke-linecap="round" />
<text x="585.0" y="220.9" font-size="15.5" font-weight="bold" fill="#1a1a1a" stroke="#fff" stroke-width="2" stroke-linejoin="round" paint-order="stroke" textLength="21" lengthAdjust="spacingAndGlyphs">OK</text>
<!-- p40_box6.py -->
<defs>
<linearGradient id="gTube6a" gradientUnits="userSpaceOnUse" x1="352" y1="613" x2="328" y2="655.6">
<stop offset="0" stop-color="#a3a3a5"/><stop offset="0.16" stop-color="#b8b8ba"/><stop offset="0.39" stop-color="#e9e9eb"/><stop offset="0.68" stop-color="#bfbfc1"/><stop offset="1" stop-color="#a4a4a6"/></linearGradient>
<linearGradient id="gTube6b" gradientUnits="userSpaceOnUse" x1="517.5" y1="859" x2="493.5" y2="901.6">
<stop offset="0" stop-color="#a3a3a5"/><stop offset="0.16" stop-color="#b8b8ba"/><stop offset="0.39" stop-color="#e9e9eb"/><stop offset="0.68" stop-color="#bfbfc1"/><stop offset="1" stop-color="#a4a4a6"/></linearGradient>
<linearGradient id="gCapSide" x1="0" y1="0" x2="0" y2="1"><stop offset="0" stop-color="#b5b5b5"/><stop offset="0.35" stop-color="#cfcfcf"/><stop offset="1" stop-color="#8c8c8c"/></linearGradient>
<linearGradient id="gCapFace" x1="0" y1="0" x2="1" y2="1"><stop offset="0" stop-color="#eaeaea"/><stop offset="1" stop-color="#d4d4d4"/></linearGradient>
<linearGradient id="gPin" x1="0" y1="0" x2="0.5" y2="1"><stop offset="0" stop-color="#f0f0f0"/><stop offset="1" stop-color="#a8a8a8"/></linearGradient>
<linearGradient id="gBaseF" x1="0" y1="0" x2="0" y2="1"><stop offset="0" stop-color="#a6a6a8"/><stop offset="1" stop-color="#b6b6b8"/></linearGradient>
</defs>
<polygon points="314.0,535.0 340.2,519.2 340.2,516.2 359.0,516.7 356.0,532.3 350.7,529.0 321.5,545.5" fill="#fff" stroke="#1a1a1a" stroke-width="1.6" stroke-linejoin="round" />
<polygon points="439.0,610.0 466.0,596.0 460.0,592.0 485.0,590.0 483.0,607.0 477.0,603.0 450.0,617.0" fill="#fff" stroke="#1a1a1a" stroke-width="1.6" stroke-linejoin="round" />
<g transform="translate(-126.5 -72.0)">
<line x1="298.8" y1="728" x2="298.8" y2="768.8" stroke="#242424" stroke-width="0.9"/>
<line x1="402.8" y1="700" x2="402.8" y2="742" stroke="#242424" stroke-width="0.9"/>
<path d="M361.2 747.0 C362.4 747.3 365.7 749.3 368.2 749.1 C370.8 748.9 373.9 748.0 376.5 745.8 C379.1 743.6 382.0 740.0 384.0 735.7 C386.0 731.4 387.7 722.6 388.5 720.0 L381.0 730.5 Z" fill="#fff" stroke="#242424" stroke-width="0.95" stroke-linejoin="round" stroke-linecap="round" />
<polygon points="294.5,716.6 319.7,701.8 353.0,700.4 380.0,705.8 408.7,696.7 408.7,705.0 388.5,717.3 385.2,729.3 361.8,747.0 358.8,745.8 356.5,741.7 354.0,735.9 333.0,747.0 324.3,745.8 295.5,727.2 294.7,724.5" fill="url(#gBaseF)" stroke="#242424" stroke-width="1.1" stroke-linejoin="round" />
<polygon points="294.5,716.6 319.7,701.8 331.4,701.3 353.0,714.4 353.0,715.9 324.2,732.1 323.5,735.5 295.4,718.6" fill="#a4a4a6" stroke="#242424" stroke-width="0.95" stroke-linejoin="round" />
<polygon points="300.1,716.9 321.1,704.7 331.0,702.2 352.6,714.8 324.7,730.8" fill="#b0b0b2" stroke="#242424" stroke-width="0.95" stroke-linejoin="round" />
<polyline points="298.6,715.5 299.0,722.0 296.3,721.3" fill="none" stroke="#242424" stroke-width="0.95" stroke-linejoin="round" stroke-linecap="round" />
<polyline points="298.6,715.5 320.2,703.4" fill="none" stroke="#242424" stroke-width="0.6" stroke-linejoin="round" stroke-linecap="round" />
<polygon points="324.7,730.8 353.0,714.8 354.4,718.0 323.3,736.6" fill="#3c3c3c" stroke="#242424" stroke-width="0.6" stroke-linejoin="round" />
<polyline points="324.2,733.9 353.7,716.6" fill="none" stroke="#b0b0b0" stroke-width="0.9" stroke-linejoin="round" stroke-linecap="round" stroke-dasharray="0.6 0.8"/>
<polyline points="323.3,736.6 333.2,738.7 380.0,711.9" fill="none" stroke="#242424" stroke-width="1.1" stroke-linejoin="round" stroke-linecap="round" />
<ellipse cx="325.1" cy="715.3" rx="15.6" ry="9.6" fill="#9a9a9c" stroke="#242424" stroke-width="0.9"/>
<ellipse cx="325.1" cy="715.6" rx="12.4" ry="7.6" fill="#b9b9b9" stroke="#242424" stroke-width="0.9"/>
<ellipse cx="325.1" cy="714.7" rx="8.6" ry="5.3" fill="#d6d6d6" stroke="#242424" stroke-width="0.8"/>
<ellipse cx="325.1" cy="714.3" rx="5.2" ry="3.2" fill="#efefef" stroke="#444" stroke-width="0.7"/>
</g>
<g transform="translate(-127.8 -72.2)">
<polygon points="443.0,618.1 461.5,637.0 459.7,655.0 458.3,655.0 444.4,638.8" fill="#b0b0b3" stroke="#242424" stroke-width="1.1" stroke-linejoin="round" />
<polygon points="428.6,648.7 444.4,638.8 458.3,655.0 459.7,655.0 459.2,664.9 430.4,681.1 407.0,691.0 407.0,664.0" fill="#b2b2b5" stroke="#242424" stroke-width="1.1" stroke-linejoin="round" />
<polyline points="436.7,661.8 436.7,674.8" fill="none" stroke="#555" stroke-width="0.8" stroke-linejoin="round" stroke-linecap="round" />
<polyline points="435.6,662.1 437.8,661.4" fill="none" stroke="#555" stroke-width="0.8" stroke-linejoin="round" stroke-linecap="round" />
<polyline points="443.9,655.0 443.9,671.7" fill="none" stroke="#555" stroke-width="0.8" stroke-linejoin="round" stroke-linecap="round" />
<polyline points="442.8,655.4 445.0,654.6" fill="none" stroke="#555" stroke-width="0.8" stroke-linejoin="round" stroke-linecap="round" />
<polyline points="431.8,649.4 443.0,642.9" fill="none" stroke="#666" stroke-width="0.9" stroke-linejoin="round" stroke-linecap="round" stroke-dasharray="1.2 0.8"/>
<polygon points="369.9,681.9 382.5,675.3 406.5,682.5 406.5,697.1 368.1,718.3 358.5,719.1 363.3,715.1" fill="#b0b0b3" stroke="#242424" stroke-width="1.1" stroke-linejoin="round" />
<polygon points="328.3,672.9 329.9,673.1 322.5,698.1 321.3,697.1" fill="#8f8f92" stroke="#242424" stroke-width="0.95" stroke-linejoin="round" />
<polygon points="329.9,673.1 347.1,681.9 353.7,716.1 322.5,698.1" fill="#a9a9ad" stroke="#242424" stroke-width="1.1" stroke-linejoin="round" />
<polygon points="347.1,681.9 369.9,681.9 363.3,715.1 358.5,718.7 353.7,716.1" fill="#b1b1b4" stroke="#242424" stroke-width="1.1" stroke-linejoin="round" />
<polyline points="353.7,716.1 358.5,719.1 368.1,718.3 406.5,697.1" fill="none" stroke="#242424" stroke-width="1.5" stroke-linejoin="round" stroke-linecap="round" />
</g>
<g transform="translate(-127.8 -72.2)">
<path d="M349.2 683.8 L329.0 673.0 L329.0 671.5 L347.7 668.5 L395.0 628.7 L424.1 625.8 C425.2 625.9 428.4 625.9 430.4 626.9 C432.4 627.9 433.9 629.6 436.3 631.6 C438.6 633.6 443.0 637.6 444.4 638.8 L428.6 648.7 L429.1 667.6 L407.0 682.0 L384.5 677.8 L371.0 684.5 Z" fill="#a1a1a3" stroke="#242424" stroke-width="1.1" stroke-linejoin="round" stroke-linecap="round" />
<polyline points="329.0,672.5 349.2,683.0 371.0,683.8 384.5,677.0" fill="none" stroke="#c4c4c6" stroke-width="0.8" stroke-linejoin="round" stroke-linecap="round" />
<polyline points="329.0,671.6 349.2,682.1 371.0,682.9 384.5,676.1" fill="none" stroke="#242424" stroke-width="1.7" stroke-linejoin="round" stroke-linecap="round" />
<polygon points="330.5,661.7 347.7,668.5 349.2,682.0 329.0,671.5" fill="#a5a5a8" stroke="#242424" stroke-width="1.1" stroke-linejoin="round" />
<path d="M395.0 628.7 L347.7 668.5 L330.5 661.7 L333.5 644.5 L387.5 601.0 L426.5 601.7 L443.0 616.0 L444.4 638.8 L444.4 638.8 C443.0 637.6 438.6 633.6 436.3 631.6 C433.9 629.6 432.4 627.9 430.4 626.9 C428.4 625.9 425.2 625.9 424.1 625.8 Z" fill="#a9a9ab" stroke="#242424" stroke-width="1.2" stroke-linejoin="round" stroke-linecap="round" />
<polyline points="373.2,613.7 395.0,628.7" fill="none" stroke="#242424" stroke-width="0.7" stroke-linejoin="round" stroke-linecap="round" />
<polyline points="336.2,645.7 388.2,603.7" fill="none" stroke="#242424" stroke-width="0.6" stroke-linejoin="round" stroke-linecap="round" />
<polyline points="443.0,618.1 444.4,638.8" fill="none" stroke="#242424" stroke-width="0.95" stroke-linejoin="round" stroke-linecap="round" />
<ellipse cx="356.7" cy="644.9" rx="12.3" ry="9.2" fill="#8e8e90" stroke="#242424" stroke-width="1.0"/><ellipse cx="357.3" cy="645.8" rx="11.3" ry="8.1" fill="#a9a9ab" stroke="#242424" stroke-width="0.7"/><ellipse cx="357.0" cy="645.8" rx="8.9" ry="6.3" fill="#c6c6c8" stroke="#242424" stroke-width="0.8"/><polygon points="362.4,646.3 358.9,649.3 353.6,648.6 351.7,645.0 355.2,642.0 360.5,642.7" fill="#e4e4e4" stroke="#333" stroke-width="0.7" stroke-linejoin="round" />
<ellipse cx="412.2" cy="610.7" rx="12.7" ry="7.2" fill="#8e8e90" stroke="#242424" stroke-width="1.0"/><ellipse cx="412.8" cy="611.6" rx="11.7" ry="6.3" fill="#a9a9ab" stroke="#242424" stroke-width="0.7"/><ellipse cx="412.5" cy="611.6" rx="9.1" ry="4.9" fill="#c6c6c8" stroke="#242424" stroke-width="0.8"/><polygon points="418.0,612.0 414.5,614.3 409.0,613.8 407.0,610.9 410.6,608.6 416.1,609.1" fill="#e4e4e4" stroke="#333" stroke-width="0.7" stroke-linejoin="round" />
<text x="0" y="0" transform="translate(374.3 662.8) rotate(-37.3)" font-size="6.3" font-weight="bold" font-style="italic" fill="#161616" stroke="#161616" stroke-width="0.7" textLength="43" lengthAdjust="spacingAndGlyphs">SW-MOTECH</text>
</g>
<path d="M286.6 571.8 L423.9 648.0 L400.1 690.8 L262.9 614.5 A17.5 24.5 17.7 0 1 286.6 571.8 Z" fill="url(#gTube6a)" stroke="#242424" stroke-width="1.2"/>
<g transform="translate(0.0 0.0)">
<line x1="298.8" y1="728" x2="298.8" y2="768.8" stroke="#242424" stroke-width="0.9"/>
<line x1="402.8" y1="700" x2="402.8" y2="742" stroke="#242424" stroke-width="0.9"/>
<path d="M361.2 747.0 C362.4 747.3 365.7 749.3 368.2 749.1 C370.8 748.9 373.9 748.0 376.5 745.8 C379.1 743.6 382.0 740.0 384.0 735.7 C386.0 731.4 387.7 722.6 388.5 720.0 L381.0 730.5 Z" fill="#fff" stroke="#242424" stroke-width="0.95" stroke-linejoin="round" stroke-linecap="round" />
<polygon points="294.5,716.6 319.7,701.8 353.0,700.4 380.0,705.8 408.7,696.7 408.7,705.0 388.5,717.3 385.2,729.3 361.8,747.0 358.8,745.8 356.5,741.7 354.0,735.9 333.0,747.0 324.3,745.8 295.5,727.2 294.7,724.5" fill="url(#gBaseF)" stroke="#242424" stroke-width="1.1" stroke-linejoin="round" />
<polygon points="294.5,716.6 319.7,701.8 331.4,701.3 353.0,714.4 353.0,715.9 324.2,732.1 323.5,735.5 295.4,718.6" fill="#a4a4a6" stroke="#242424" stroke-width="0.95" stroke-linejoin="round" />
<polygon points="300.1,716.9 321.1,704.7 331.0,702.2 352.6,714.8 324.7,730.8" fill="#b0b0b2" stroke="#242424" stroke-width="0.95" stroke-linejoin="round" />
<polyline points="298.6,715.5 299.0,722.0 296.3,721.3" fill="none" stroke="#242424" stroke-width="0.95" stroke-linejoin="round" stroke-linecap="round" />
<polyline points="298.6,715.5 320.2,703.4" fill="none" stroke="#242424" stroke-width="0.6" stroke-linejoin="round" stroke-linecap="round" />
<polygon points="324.7,730.8 353.0,714.8 354.4,718.0 323.3,736.6" fill="#3c3c3c" stroke="#242424" stroke-width="0.6" stroke-linejoin="round" />
<polyline points="324.2,733.9 353.7,716.6" fill="none" stroke="#b0b0b0" stroke-width="0.9" stroke-linejoin="round" stroke-linecap="round" stroke-dasharray="0.6 0.8"/>
<polyline points="323.3,736.6 333.2,738.7 380.0,711.9" fill="none" stroke="#242424" stroke-width="1.1" stroke-linejoin="round" stroke-linecap="round" />
<ellipse cx="325.1" cy="715.3" rx="15.6" ry="9.6" fill="#9a9a9c" stroke="#242424" stroke-width="0.9"/>
<ellipse cx="325.1" cy="715.6" rx="12.4" ry="7.6" fill="#b9b9b9" stroke="#242424" stroke-width="0.9"/>
<ellipse cx="325.1" cy="714.7" rx="8.6" ry="5.3" fill="#d6d6d6" stroke="#242424" stroke-width="0.8"/>
<ellipse cx="325.1" cy="714.3" rx="5.2" ry="3.2" fill="#efefef" stroke="#444" stroke-width="0.7"/>
<polygon points="366.7,728.2 370.5,723.3 375.7,721.8 384.3,729.0 382.2,736.8 376.8,737.4 367.2,732.3" fill="url(#gPin)" stroke="#242424" stroke-width="1.1" stroke-linejoin="round" />
<ellipse cx="380.4" cy="733.3" rx="3.6" ry="4.6" transform="rotate(-25 380.4 733.3)" fill="#b5b5b5" stroke="#242424" stroke-width="0.9"/>
<ellipse cx="380.4" cy="733.3" rx="1.8" ry="2.4" transform="rotate(-25 380.4 733.3)" fill="#dcdcdc" stroke="#242424" stroke-width="0.6"/>
</g>
<g transform="translate(0.0 0.0)">
<polygon points="443.0,618.1 461.5,637.0 459.7,655.0 458.3,655.0 444.4,638.8" fill="#b0b0b3" stroke="#242424" stroke-width="1.1" stroke-linejoin="round" />
<polygon points="428.6,648.7 444.4,638.8 458.3,655.0 459.7,655.0 459.2,664.9 430.4,681.1 407.0,691.0 407.0,664.0" fill="#b2b2b5" stroke="#242424" stroke-width="1.1" stroke-linejoin="round" />
<polyline points="436.7,661.8 436.7,674.8" fill="none" stroke="#555" stroke-width="0.8" stroke-linejoin="round" stroke-linecap="round" />
<polyline points="435.6,662.1 437.8,661.4" fill="none" stroke="#555" stroke-width="0.8" stroke-linejoin="round" stroke-linecap="round" />
<polyline points="443.9,655.0 443.9,671.7" fill="none" stroke="#555" stroke-width="0.8" stroke-linejoin="round" stroke-linecap="round" />
<polyline points="442.8,655.4 445.0,654.6" fill="none" stroke="#555" stroke-width="0.8" stroke-linejoin="round" stroke-linecap="round" />
<polyline points="431.8,649.4 443.0,642.9" fill="none" stroke="#666" stroke-width="0.9" stroke-linejoin="round" stroke-linecap="round" stroke-dasharray="1.2 0.8"/>
<polygon points="369.9,681.9 382.5,675.3 406.5,682.5 406.5,697.1 368.1,718.3 358.5,719.1 363.3,715.1" fill="#b0b0b3" stroke="#242424" stroke-width="1.1" stroke-linejoin="round" />
<polygon points="328.3,672.9 329.9,673.1 322.5,698.1 321.3,697.1" fill="#8f8f92" stroke="#242424" stroke-width="0.95" stroke-linejoin="round" />
<polygon points="329.9,673.1 347.1,681.9 353.7,716.1 322.5,698.1" fill="#a9a9ad" stroke="#242424" stroke-width="1.1" stroke-linejoin="round" />
<polygon points="347.1,681.9 369.9,681.9 363.3,715.1 358.5,718.7 353.7,716.1" fill="#b1b1b4" stroke="#242424" stroke-width="1.1" stroke-linejoin="round" />
<polyline points="353.7,716.1 358.5,719.1 368.1,718.3 406.5,697.1" fill="none" stroke="#242424" stroke-width="1.5" stroke-linejoin="round" stroke-linecap="round" />
</g>
<g transform="translate(0.0 0.0)">
<path d="M349.2 683.8 L329.0 673.0 L329.0 671.5 L347.7 668.5 L395.0 628.7 L424.1 625.8 C425.2 625.9 428.4 625.9 430.4 626.9 C432.4 627.9 433.9 629.6 436.3 631.6 C438.6 633.6 443.0 637.6 444.4 638.8 L428.6 648.7 L429.1 667.6 L407.0 682.0 L384.5 677.8 L371.0 684.5 Z" fill="#a1a1a3" stroke="#242424" stroke-width="1.1" stroke-linejoin="round" stroke-linecap="round" />
<polyline points="329.0,672.5 349.2,683.0 371.0,683.8 384.5,677.0" fill="none" stroke="#c4c4c6" stroke-width="0.8" stroke-linejoin="round" stroke-linecap="round" />
<polyline points="329.0,671.6 349.2,682.1 371.0,682.9 384.5,676.1" fill="none" stroke="#242424" stroke-width="1.7" stroke-linejoin="round" stroke-linecap="round" />
<polygon points="330.5,661.7 347.7,668.5 349.2,682.0 329.0,671.5" fill="#a5a5a8" stroke="#242424" stroke-width="1.1" stroke-linejoin="round" />
<path d="M395.0 628.7 L347.7 668.5 L330.5 661.7 L333.5 644.5 L387.5 601.0 L426.5 601.7 L443.0 616.0 L444.4 638.8 L444.4 638.8 C443.0 637.6 438.6 633.6 436.3 631.6 C433.9 629.6 432.4 627.9 430.4 626.9 C428.4 625.9 425.2 625.9 424.1 625.8 Z" fill="#a9a9ab" stroke="#242424" stroke-width="1.2" stroke-linejoin="round" stroke-linecap="round" />
<polyline points="373.2,613.7 395.0,628.7" fill="none" stroke="#242424" stroke-width="0.7" stroke-linejoin="round" stroke-linecap="round" />
<polyline points="336.2,645.7 388.2,603.7" fill="none" stroke="#242424" stroke-width="0.6" stroke-linejoin="round" stroke-linecap="round" />
<polyline points="443.0,618.1 444.4,638.8" fill="none" stroke="#242424" stroke-width="0.95" stroke-linejoin="round" stroke-linecap="round" />
<ellipse cx="356.7" cy="644.9" rx="12.3" ry="9.2" fill="#8e8e90" stroke="#242424" stroke-width="1.0"/><ellipse cx="357.3" cy="645.8" rx="11.3" ry="8.1" fill="#a9a9ab" stroke="#242424" stroke-width="0.7"/><ellipse cx="357.0" cy="645.8" rx="8.9" ry="6.3" fill="#c6c6c8" stroke="#242424" stroke-width="0.8"/><polygon points="362.4,646.3 358.9,649.3 353.6,648.6 351.7,645.0 355.2,642.0 360.5,642.7" fill="#e4e4e4" stroke="#333" stroke-width="0.7" stroke-linejoin="round" />
<ellipse cx="412.2" cy="610.7" rx="12.7" ry="7.2" fill="#8e8e90" stroke="#242424" stroke-width="1.0"/><ellipse cx="412.8" cy="611.6" rx="11.7" ry="6.3" fill="#a9a9ab" stroke="#242424" stroke-width="0.7"/><ellipse cx="412.5" cy="611.6" rx="9.1" ry="4.9" fill="#c6c6c8" stroke="#242424" stroke-width="0.8"/><polygon points="418.0,612.0 414.5,614.3 409.0,613.8 407.0,610.9 410.6,608.6 416.1,609.1" fill="#e4e4e4" stroke="#333" stroke-width="0.7" stroke-linejoin="round" />
<text x="0" y="0" transform="translate(374.3 662.8) rotate(-37.3)" font-size="6.3" font-weight="bold" font-style="italic" fill="#161616" stroke="#161616" stroke-width="0.7" textLength="43" lengthAdjust="spacingAndGlyphs">SW-MOTECH</text>
</g>
<ellipse cx="403.5" cy="665.8" rx="17.5" ry="23.6" transform="rotate(17.7 403.5 665.8)" fill="url(#gCapSide)" stroke="#242424" stroke-width="1.2"/><polygon points="419.2,646.9 410.7,643.3 396.3,688.3 404.8,691.9" fill="url(#gCapSide)" stroke="none" stroke-width="0" stroke-linejoin="round" /><line x1="419.2" y1="646.9" x2="410.7" y2="643.3" stroke="#242424" stroke-width="1.2"/><line x1="404.8" y1="691.9" x2="396.3" y2="688.3" stroke="#242424" stroke-width="1.2"/><ellipse cx="412.0" cy="669.4" rx="17.5" ry="23.6" transform="rotate(17.7 412.0 669.4)" fill="url(#gCapFace)" stroke="#242424" stroke-width="1.2"/>
<g transform="translate(38.5 172.5)">
<line x1="492.5" y1="654.0" x2="492.5" y2="690.4" stroke="#242424" stroke-width="0.9"/>
<line x1="388.5" y1="702.0" x2="388.5" y2="716.4" stroke="#242424" stroke-width="0.9"/>
<path d="M448.1 693.6 C449.2 693.9 451.8 695.8 454.5 695.2 C457.2 694.6 461.5 692.5 464.5 690.0 C467.5 687.5 470.5 683.7 472.5 680.0 C474.5 676.3 475.8 670.0 476.5 668.0 L468.5 678.0 Z" fill="#fff" stroke="#242424" stroke-width="0.95" stroke-linejoin="round" stroke-linecap="round" />
<polygon points="452.5,625.6 472.5,616.6 496.1,629.0 498.9,640.0 498.5,643.0 492.1,658.0 478.5,665.0 475.5,674.0 448.1,693.6 445.5,691.0 442.5,683.0 414.5,694.0 394.5,686.0 434.5,634.0" fill="url(#gBaseF)" stroke="#242424" stroke-width="1.1" stroke-linejoin="round" />
<polygon points="452.5,625.6 472.5,616.6 496.1,629.0 495.5,634.0 461.5,653.0 458.9,642.0" fill="#a4a4a6" stroke="#242424" stroke-width="0.95" stroke-linejoin="round" />
<polygon points="454.5,626.4 472.5,618.4 493.5,629.4 461.5,647.0" fill="#b0b0b2" stroke="#242424" stroke-width="0.7" stroke-linejoin="round" />
<polygon points="460.1,648.4 494.1,630.8 495.5,634.2 461.5,653.2" fill="#3c3c3c" stroke="#242424" stroke-width="0.6" stroke-linejoin="round" />
<polyline points="460.9,650.8 494.9,632.4" fill="none" stroke="#bbb" stroke-width="1.0" stroke-linejoin="round" stroke-linecap="round" stroke-dasharray="0.7 0.7"/>
<polyline points="461.5,653.6 497.5,635.0" fill="none" stroke="#242424" stroke-width="0.95" stroke-linejoin="round" stroke-linecap="round" />
<ellipse cx="469.5" cy="631.6" rx="14.5" ry="8.6" fill="#9a9a9c" stroke="#242424" stroke-width="0.9"/>
<ellipse cx="469.5" cy="631.9" rx="11.4" ry="6.8" fill="#b9b9b9" stroke="#242424" stroke-width="0.9"/>
<ellipse cx="469.5" cy="631.1" rx="7.8" ry="4.8" fill="#d6d6d6" stroke="#242424" stroke-width="0.8"/>
<ellipse cx="469.5" cy="630.8" rx="4.8" ry="3" fill="#efefef" stroke="#444" stroke-width="0.7"/>
</g>
<g transform="translate(38.5 172.5)">
<polygon points="443.0,618.1 461.5,637.0 459.7,655.0 458.3,655.0 444.4,638.8" fill="#b0b0b3" stroke="#242424" stroke-width="1.1" stroke-linejoin="round" />
<polygon points="428.6,648.7 444.4,638.8 458.3,655.0 459.7,655.0 459.2,664.9 430.4,681.1 407.0,691.0 407.0,664.0" fill="#b2b2b5" stroke="#242424" stroke-width="1.1" stroke-linejoin="round" />
<polyline points="436.7,661.8 436.7,674.8" fill="none" stroke="#555" stroke-width="0.8" stroke-linejoin="round" stroke-linecap="round" />
<polyline points="435.6,662.1 437.8,661.4" fill="none" stroke="#555" stroke-width="0.8" stroke-linejoin="round" stroke-linecap="round" />
<polyline points="443.9,655.0 443.9,671.7" fill="none" stroke="#555" stroke-width="0.8" stroke-linejoin="round" stroke-linecap="round" />
<polyline points="442.8,655.4 445.0,654.6" fill="none" stroke="#555" stroke-width="0.8" stroke-linejoin="round" stroke-linecap="round" />
<polyline points="431.8,649.4 443.0,642.9" fill="none" stroke="#666" stroke-width="0.9" stroke-linejoin="round" stroke-linecap="round" stroke-dasharray="1.2 0.8"/>
<polygon points="369.9,681.9 382.5,675.3 406.5,682.5 406.5,697.1 368.1,718.3 358.5,719.1 363.3,715.1" fill="#b0b0b3" stroke="#242424" stroke-width="1.1" stroke-linejoin="round" />
<polygon points="328.3,672.9 329.9,673.1 322.5,698.1 321.3,697.1" fill="#8f8f92" stroke="#242424" stroke-width="0.95" stroke-linejoin="round" />
<polygon points="329.9,673.1 347.1,681.9 353.7,716.1 322.5,698.1" fill="#a9a9ad" stroke="#242424" stroke-width="1.1" stroke-linejoin="round" />
<polygon points="347.1,681.9 369.9,681.9 363.3,715.1 358.5,718.7 353.7,716.1" fill="#b1b1b4" stroke="#242424" stroke-width="1.1" stroke-linejoin="round" />
<polyline points="353.7,716.1 358.5,719.1 368.1,718.3 406.5,697.1" fill="none" stroke="#242424" stroke-width="1.5" stroke-linejoin="round" stroke-linecap="round" />
</g>
<g transform="translate(38.5 172.5)">
<path d="M349.2 683.8 L329.0 673.0 L329.0 671.5 L347.7 668.5 L395.0 628.7 L424.1 625.8 C425.2 625.9 428.4 625.9 430.4 626.9 C432.4 627.9 433.9 629.6 436.3 631.6 C438.6 633.6 443.0 637.6 444.4 638.8 L428.6 648.7 L429.1 667.6 L407.0 682.0 L384.5 677.8 L371.0 684.5 Z" fill="#a1a1a3" stroke="#242424" stroke-width="1.1" stroke-linejoin="round" stroke-linecap="round" />
<polyline points="329.0,672.5 349.2,683.0 371.0,683.8 384.5,677.0" fill="none" stroke="#c4c4c6" stroke-width="0.8" stroke-linejoin="round" stroke-linecap="round" />
<polyline points="329.0,671.6 349.2,682.1 371.0,682.9 384.5,676.1" fill="none" stroke="#242424" stroke-width="1.7" stroke-linejoin="round" stroke-linecap="round" />
<polygon points="330.5,661.7 347.7,668.5 349.2,682.0 329.0,671.5" fill="#a5a5a8" stroke="#242424" stroke-width="1.1" stroke-linejoin="round" />
<path d="M395.0 628.7 L347.7 668.5 L330.5 661.7 L333.5 644.5 L387.5 601.0 L426.5 601.7 L443.0 616.0 L444.4 638.8 L444.4 638.8 C443.0 637.6 438.6 633.6 436.3 631.6 C433.9 629.6 432.4 627.9 430.4 626.9 C428.4 625.9 425.2 625.9 424.1 625.8 Z" fill="#a9a9ab" stroke="#242424" stroke-width="1.2" stroke-linejoin="round" stroke-linecap="round" />
<polyline points="373.2,613.7 395.0,628.7" fill="none" stroke="#242424" stroke-width="0.7" stroke-linejoin="round" stroke-linecap="round" />
<polyline points="336.2,645.7 388.2,603.7" fill="none" stroke="#242424" stroke-width="0.6" stroke-linejoin="round" stroke-linecap="round" />
<polyline points="443.0,618.1 444.4,638.8" fill="none" stroke="#242424" stroke-width="0.95" stroke-linejoin="round" stroke-linecap="round" />
<ellipse cx="356.7" cy="644.9" rx="12.3" ry="9.2" fill="#8e8e90" stroke="#242424" stroke-width="1.0"/><ellipse cx="357.3" cy="645.8" rx="11.3" ry="8.1" fill="#a9a9ab" stroke="#242424" stroke-width="0.7"/><ellipse cx="357.0" cy="645.8" rx="8.9" ry="6.3" fill="#c6c6c8" stroke="#242424" stroke-width="0.8"/><polygon points="362.4,646.3 358.9,649.3 353.6,648.6 351.7,645.0 355.2,642.0 360.5,642.7" fill="#e4e4e4" stroke="#333" stroke-width="0.7" stroke-linejoin="round" />
<ellipse cx="412.2" cy="610.7" rx="12.7" ry="7.2" fill="#8e8e90" stroke="#242424" stroke-width="1.0"/><ellipse cx="412.8" cy="611.6" rx="11.7" ry="6.3" fill="#a9a9ab" stroke="#242424" stroke-width="0.7"/><ellipse cx="412.5" cy="611.6" rx="9.1" ry="4.9" fill="#c6c6c8" stroke="#242424" stroke-width="0.8"/><polygon points="418.0,612.0 414.5,614.3 409.0,613.8 407.0,610.9 410.6,608.6 416.1,609.1" fill="#e4e4e4" stroke="#333" stroke-width="0.7" stroke-linejoin="round" />
<text x="0" y="0" transform="translate(374.3 662.8) rotate(-37.3)" font-size="6.3" font-weight="bold" font-style="italic" fill="#161616" stroke="#161616" stroke-width="0.7" textLength="43" lengthAdjust="spacingAndGlyphs">SW-MOTECH</text>
</g>
<path d="M452.1 817.8 L589.4 894.0 L565.6 936.8 L428.4 860.5 A17.5 24.5 17.7 0 1 452.1 817.8 Z" fill="url(#gTube6b)" stroke="#242424" stroke-width="1.2"/>
<g transform="translate(165.5 246.0)">
<line x1="492.5" y1="654.0" x2="492.5" y2="690.4" stroke="#242424" stroke-width="0.9"/>
<line x1="388.5" y1="702.0" x2="388.5" y2="716.4" stroke="#242424" stroke-width="0.9"/>
<path d="M448.1 693.6 C449.2 693.9 451.8 695.8 454.5 695.2 C457.2 694.6 461.5 692.5 464.5 690.0 C467.5 687.5 470.5 683.7 472.5 680.0 C474.5 676.3 475.8 670.0 476.5 668.0 L468.5 678.0 Z" fill="#fff" stroke="#242424" stroke-width="0.95" stroke-linejoin="round" stroke-linecap="round" />
<polygon points="452.5,625.6 472.5,616.6 496.1,629.0 498.9,640.0 498.5,643.0 492.1,658.0 478.5,665.0 475.5,674.0 448.1,693.6 445.5,691.0 442.5,683.0 414.5,694.0 394.5,686.0 434.5,634.0" fill="url(#gBaseF)" stroke="#242424" stroke-width="1.1" stroke-linejoin="round" />
<polygon points="452.5,625.6 472.5,616.6 496.1,629.0 495.5,634.0 461.5,653.0 458.9,642.0" fill="#a4a4a6" stroke="#242424" stroke-width="0.95" stroke-linejoin="round" />
<polygon points="454.5,626.4 472.5,618.4 493.5,629.4 461.5,647.0" fill="#b0b0b2" stroke="#242424" stroke-width="0.7" stroke-linejoin="round" />
<polygon points="460.1,648.4 494.1,630.8 495.5,634.2 461.5,653.2" fill="#3c3c3c" stroke="#242424" stroke-width="0.6" stroke-linejoin="round" />
<polyline points="460.9,650.8 494.9,632.4" fill="none" stroke="#bbb" stroke-width="1.0" stroke-linejoin="round" stroke-linecap="round" stroke-dasharray="0.7 0.7"/>
<polyline points="461.5,653.6 497.5,635.0" fill="none" stroke="#242424" stroke-width="0.95" stroke-linejoin="round" stroke-linecap="round" />
<ellipse cx="469.5" cy="631.6" rx="14.5" ry="8.6" fill="#9a9a9c" stroke="#242424" stroke-width="0.9"/>
<ellipse cx="469.5" cy="631.9" rx="11.4" ry="6.8" fill="#b9b9b9" stroke="#242424" stroke-width="0.9"/>
<ellipse cx="469.5" cy="631.1" rx="7.8" ry="4.8" fill="#d6d6d6" stroke="#242424" stroke-width="0.8"/>
<ellipse cx="469.5" cy="630.8" rx="4.8" ry="3" fill="#efefef" stroke="#444" stroke-width="0.7"/>
<polygon points="456.9,675.0 460.1,671.0 464.9,669.6 473.5,677.0 471.5,683.6 467.5,684.4 457.5,678.4" fill="url(#gPin)" stroke="#242424" stroke-width="1.1" stroke-linejoin="round" />
<ellipse cx="470.1" cy="680.8" rx="3.6" ry="4.6" transform="rotate(-25 470.1 680.8)" fill="#b5b5b5" stroke="#242424" stroke-width="0.9"/>
<ellipse cx="470.1" cy="680.8" rx="1.8" ry="2.4" transform="rotate(-25 470.1 680.8)" fill="#dcdcdc" stroke="#242424" stroke-width="0.6"/>
</g>
<g transform="translate(165.5 246.0)">
<polygon points="443.0,618.1 461.5,637.0 459.7,655.0 458.3,655.0 444.4,638.8" fill="#b0b0b3" stroke="#242424" stroke-width="1.1" stroke-linejoin="round" />
<polygon points="428.6,648.7 444.4,638.8 458.3,655.0 459.7,655.0 459.2,664.9 430.4,681.1 407.0,691.0 407.0,664.0" fill="#b2b2b5" stroke="#242424" stroke-width="1.1" stroke-linejoin="round" />
<polyline points="436.7,661.8 436.7,674.8" fill="none" stroke="#555" stroke-width="0.8" stroke-linejoin="round" stroke-linecap="round" />
<polyline points="435.6,662.1 437.8,661.4" fill="none" stroke="#555" stroke-width="0.8" stroke-linejoin="round" stroke-linecap="round" />
<polyline points="443.9,655.0 443.9,671.7" fill="none" stroke="#555" stroke-width="0.8" stroke-linejoin="round" stroke-linecap="round" />
<polyline points="442.8,655.4 445.0,654.6" fill="none" stroke="#555" stroke-width="0.8" stroke-linejoin="round" stroke-linecap="round" />
<polyline points="431.8,649.4 443.0,642.9" fill="none" stroke="#666" stroke-width="0.9" stroke-linejoin="round" stroke-linecap="round" stroke-dasharray="1.2 0.8"/>
<polygon points="369.9,681.9 382.5,675.3 406.5,682.5 406.5,697.1 368.1,718.3 358.5,719.1 363.3,715.1" fill="#b0b0b3" stroke="#242424" stroke-width="1.1" stroke-linejoin="round" />
<polygon points="328.3,672.9 329.9,673.1 322.5,698.1 321.3,697.1" fill="#8f8f92" stroke="#242424" stroke-width="0.95" stroke-linejoin="round" />
<polygon points="329.9,673.1 347.1,681.9 353.7,716.1 322.5,698.1" fill="#a9a9ad" stroke="#242424" stroke-width="1.1" stroke-linejoin="round" />
<polygon points="347.1,681.9 369.9,681.9 363.3,715.1 358.5,718.7 353.7,716.1" fill="#b1b1b4" stroke="#242424" stroke-width="1.1" stroke-linejoin="round" />
<polyline points="353.7,716.1 358.5,719.1 368.1,718.3 406.5,697.1" fill="none" stroke="#242424" stroke-width="1.5" stroke-linejoin="round" stroke-linecap="round" />
</g>
<g transform="translate(165.5 246.0)">
<path d="M349.2 683.8 L329.0 673.0 L329.0 671.5 L347.7 668.5 L395.0 628.7 L424.1 625.8 C425.2 625.9 428.4 625.9 430.4 626.9 C432.4 627.9 433.9 629.6 436.3 631.6 C438.6 633.6 443.0 637.6 444.4 638.8 L428.6 648.7 L429.1 667.6 L407.0 682.0 L384.5 677.8 L371.0 684.5 Z" fill="#a1a1a3" stroke="#242424" stroke-width="1.1" stroke-linejoin="round" stroke-linecap="round" />
<polyline points="329.0,672.5 349.2,683.0 371.0,683.8 384.5,677.0" fill="none" stroke="#c4c4c6" stroke-width="0.8" stroke-linejoin="round" stroke-linecap="round" />
<polyline points="329.0,671.6 349.2,682.1 371.0,682.9 384.5,676.1" fill="none" stroke="#242424" stroke-width="1.7" stroke-linejoin="round" stroke-linecap="round" />
<polygon points="330.5,661.7 347.7,668.5 349.2,682.0 329.0,671.5" fill="#a5a5a8" stroke="#242424" stroke-width="1.1" stroke-linejoin="round" />
<path d="M395.0 628.7 L347.7 668.5 L330.5 661.7 L333.5 644.5 L387.5 601.0 L426.5 601.7 L443.0 616.0 L444.4 638.8 L444.4 638.8 C443.0 637.6 438.6 633.6 436.3 631.6 C433.9 629.6 432.4 627.9 430.4 626.9 C428.4 625.9 425.2 625.9 424.1 625.8 Z" fill="#a9a9ab" stroke="#242424" stroke-width="1.2" stroke-linejoin="round" stroke-linecap="round" />
<polyline points="373.2,613.7 395.0,628.7" fill="none" stroke="#242424" stroke-width="0.7" stroke-linejoin="round" stroke-linecap="round" />
<polyline points="336.2,645.7 388.2,603.7" fill="none" stroke="#242424" stroke-width="0.6" stroke-linejoin="round" stroke-linecap="round" />
<polyline points="443.0,618.1 444.4,638.8" fill="none" stroke="#242424" stroke-width="0.95" stroke-linejoin="round" stroke-linecap="round" />
<ellipse cx="356.7" cy="644.9" rx="12.3" ry="9.2" fill="#8e8e90" stroke="#242424" stroke-width="1.0"/><ellipse cx="357.3" cy="645.8" rx="11.3" ry="8.1" fill="#a9a9ab" stroke="#242424" stroke-width="0.7"/><ellipse cx="357.0" cy="645.8" rx="8.9" ry="6.3" fill="#c6c6c8" stroke="#242424" stroke-width="0.8"/><polygon points="362.4,646.3 358.9,649.3 353.6,648.6 351.7,645.0 355.2,642.0 360.5,642.7" fill="#e4e4e4" stroke="#333" stroke-width="0.7" stroke-linejoin="round" />
<ellipse cx="412.2" cy="610.7" rx="12.7" ry="7.2" fill="#8e8e90" stroke="#242424" stroke-width="1.0"/><ellipse cx="412.8" cy="611.6" rx="11.7" ry="6.3" fill="#a9a9ab" stroke="#242424" stroke-width="0.7"/><ellipse cx="412.5" cy="611.6" rx="9.1" ry="4.9" fill="#c6c6c8" stroke="#242424" stroke-width="0.8"/><polygon points="418.0,612.0 414.5,614.3 409.0,613.8 407.0,610.9 410.6,608.6 416.1,609.1" fill="#e4e4e4" stroke="#333" stroke-width="0.7" stroke-linejoin="round" />
<text x="0" y="0" transform="translate(374.3 662.8) rotate(-37.3)" font-size="6.3" font-weight="bold" font-style="italic" fill="#161616" stroke="#161616" stroke-width="0.7" textLength="43" lengthAdjust="spacingAndGlyphs">SW-MOTECH</text>
</g>
<ellipse cx="569.0" cy="911.8" rx="17.5" ry="23.6" transform="rotate(17.7 569.0 911.8)" fill="url(#gCapSide)" stroke="#242424" stroke-width="1.2"/><polygon points="584.7,892.9 576.2,889.3 561.8,934.3 570.3,937.9" fill="url(#gCapSide)" stroke="none" stroke-width="0" stroke-linejoin="round" /><line x1="584.7" y1="892.9" x2="576.2" y2="889.3" stroke="#242424" stroke-width="1.2"/><line x1="570.3" y1="937.9" x2="561.8" y2="934.3" stroke="#242424" stroke-width="1.2"/><ellipse cx="577.5" cy="915.4" rx="17.5" ry="23.6" transform="rotate(17.7 577.5 915.4)" fill="url(#gCapFace)" stroke="#242424" stroke-width="1.2"/>
<polygon points="334.0,861.0 340.0,864.6 368.2,848.4 380.8,854.4 353.2,871.2 358.6,874.2 332.2,876.0" fill="#fff" stroke="#1a1a1a" stroke-width="1.6" stroke-linejoin="round" />
<polygon points="460.0,933.5 466.0,937.1 494.2,920.9 506.8,926.9 479.2,943.7 484.6,946.7 458.2,948.5" fill="#fff" stroke="#1a1a1a" stroke-width="1.6" stroke-linejoin="round" />
<polygon points="207.5,612.0 204.8,612.7 206.1,615.1 208.3,617.2 208.8,622.6 210.4,627.0 213.7,627.5 214.6,625.5 215.1,621.9 216.7,622.5 218.9,621.0 218.2,618.3 216.5,616.3 216.9,618.7 214.4,618.8 212.9,618.3 213.3,619.8 212.6,625.1 211.5,625.5 210.4,622.6 210.6,616.9 207.5,614.3" fill="none" stroke="#1f1f1f" stroke-width="1.0" stroke-linejoin="round" />
<polygon points="335.3,684.3 332.6,685.0 333.9,687.3 336.0,689.5 336.6,694.9 338.2,699.2 341.4,699.7 342.3,697.8 342.9,694.2 344.5,694.7 346.6,693.3 345.9,690.6 344.3,688.6 344.7,690.9 342.1,691.1 340.7,690.6 341.1,692.0 340.3,697.4 339.3,697.8 338.2,694.9 338.4,689.1 335.3,686.6" fill="none" stroke="#1f1f1f" stroke-width="1.0" stroke-linejoin="round" />
<polygon points="373.8,856.8 371.1,857.5 372.4,859.8 374.5,862.0 375.1,867.4 376.7,871.7 379.9,872.2 380.8,870.3 381.4,866.7 383.0,867.2 385.1,865.8 384.4,863.1 382.8,861.1 383.2,863.4 380.6,863.6 379.2,863.1 379.6,864.5 378.8,869.9 377.8,870.3 376.7,867.4 376.9,861.6 373.8,859.1" fill="none" stroke="#1f1f1f" stroke-width="1.0" stroke-linejoin="round" />
<polygon points="500.8,930.3 498.1,931.0 499.4,933.3 501.5,935.5 502.1,940.9 503.7,945.2 506.9,945.7 507.8,943.8 508.4,940.2 510.0,940.7 512.1,939.3 511.4,936.6 509.8,934.6 510.2,936.9 507.6,937.1 506.2,936.6 506.6,938.0 505.8,943.4 504.8,943.8 503.7,940.9 503.9,935.1 500.8,932.6" fill="none" stroke="#1f1f1f" stroke-width="1.0" stroke-linejoin="round" />
<line x1="272.8" y1="645.0" x2="197.4" y2="643.0" stroke="#fff" stroke-width="1.6"/><line x1="272.8" y1="645.0" x2="197.4" y2="643.0" stroke="#333" stroke-width="0.8" stroke-dasharray="3 0.8"/>
<line x1="272.8" y1="645.0" x2="325.1" y2="715.0" stroke="#fff" stroke-width="1.6"/><line x1="272.8" y1="645.0" x2="325.1" y2="715.0" stroke="#333" stroke-width="0.8" stroke-dasharray="3 0.8"/>
<line x1="583.8" y1="809.5" x2="508.0" y2="804.0" stroke="#fff" stroke-width="1.6"/><line x1="583.8" y1="809.5" x2="508.0" y2="804.0" stroke="#333" stroke-width="0.8" stroke-dasharray="3 0.8"/>
<line x1="583.8" y1="809.5" x2="635.0" y2="877.6" stroke="#fff" stroke-width="1.6"/><line x1="583.8" y1="809.5" x2="635.0" y2="877.6" stroke="#333" stroke-width="0.8" stroke-dasharray="3 0.8"/>
<polygon points="286.9,509.7 253.7,541.2 253.0,548.0 255.2,566.0 258.2,576.5 263.5,589.2 267.2,594.5 265.7,600.5 267.2,602.0 279.2,602.0 280.7,599.7 279.2,587.0 280.7,585.5 288.2,579.5 292.7,569.0 295.7,555.5 304.0,543.5 307.0,534.5 308.5,529.2 319.0,523.2 337.7,519.8 337.7,509.7" fill="#fff" stroke="none" stroke-width="0" stroke-linejoin="round" /><path d="M286.9 509.7 C284.5 512.1 278.0 518.4 272.5 523.7 C267.0 528.9 257.0 537.2 253.7 541.2 C250.5 545.3 252.7 543.9 253.0 548.0 C253.2 552.1 254.4 561.2 255.2 566.0 C256.1 570.7 256.9 572.6 258.2 576.5 C259.6 580.4 262.0 586.2 263.5 589.2 C265.0 592.2 266.6 593.6 267.2 594.5" fill="none" stroke="#161616" stroke-width="1.25" stroke-linejoin="round" stroke-linecap="round" /><polyline points="267.2,594.5 265.7,600.5 267.2,602.0 279.2,602.0 280.7,599.7 279.2,587.0 278.5,582.5" fill="none" stroke="#161616" stroke-width="1.25" stroke-linejoin="round" stroke-linecap="round" /><path d="M337.7 519.8 C334.6 520.4 323.9 521.7 319.0 523.2 C314.1 524.8 310.5 527.4 308.5 529.2 C306.5 531.1 307.7 532.1 307.0 534.5 C306.2 536.9 305.9 540.0 304.0 543.5 C302.1 547.0 297.6 551.2 295.7 555.5 C293.9 559.7 294.0 565.0 292.7 569.0 C291.5 573.0 290.2 576.7 288.2 579.5 C286.2 582.2 282.2 585.0 280.7 585.5 C279.2 586.0 279.5 583.0 279.2 582.5" fill="none" stroke="#161616" stroke-width="1.25" stroke-linejoin="round" stroke-linecap="round" /><path d="M256.7 542.7 C257.1 544.1 257.1 548.4 259.0 551.0 C260.9 553.6 264.7 556.2 268.0 558.5 C271.2 560.7 275.5 564.7 278.5 564.5 C281.5 564.2 284.0 559.6 286.0 557.0 C288.0 554.4 289.6 549.5 290.5 548.7 C291.4 548.0 291.5 549.6 291.2 552.5 C291.0 555.4 289.4 563.7 289.0 566.0" fill="none" stroke="#161616" stroke-width="1.1" stroke-linejoin="round" stroke-linecap="round" /><path d="M254.5 549.5 C256.1 552.0 261.5 560.7 264.2 564.5 C267.0 568.2 268.4 571.0 271.0 572.0 C273.6 573.0 277.0 571.5 280.0 570.5 C283.0 569.5 287.5 566.7 289.0 566.0" fill="none" stroke="#161616" stroke-width="1.1" stroke-linejoin="round" stroke-linecap="round" /><path d="M282.2 573.5 C283.1 572.2 285.7 570.0 286.7 569.7 C287.7 569.5 288.7 570.6 288.2 572.0 C287.7 573.4 284.9 577.1 283.7 578.0 C282.6 578.9 281.7 578.0 281.5 577.2 C281.2 576.5 281.4 574.7 282.2 573.5Z" fill="none" stroke="#161616" stroke-width="0.9" stroke-linejoin="round" stroke-linecap="round" /><path d="M259.0 576.5 C260.5 577.0 265.5 578.0 268.0 579.5 C270.5 581.0 273.0 583.2 274.0 585.5 C275.0 587.7 274.7 591.5 274.0 593.0 C273.2 594.5 270.9 595.0 269.5 594.5 C268.1 594.0 266.4 590.7 265.7 590.0" fill="none" stroke="#161616" stroke-width="1.1" stroke-linejoin="round" stroke-linecap="round" /><polyline points="275.5,546.5 281.5,545.7" fill="none" stroke="#161616" stroke-width="0.9" stroke-linejoin="round" stroke-linecap="round" /><polyline points="278.5,546.2 280.0,551.0" fill="none" stroke="#161616" stroke-width="0.9" stroke-linejoin="round" stroke-linecap="round" /><polyline points="277.0,551.0 281.5,550.4" fill="none" stroke="#161616" stroke-width="0.9" stroke-linejoin="round" stroke-linecap="round" /><polyline points="280.7,545.7 292.0,541.2" fill="none" stroke="#161616" stroke-width="0.9" stroke-linejoin="round" stroke-linecap="round" /><path d="M301.0 538.2 C302.1 537.2 306.9 533.7 307.7 532.2 C308.6 530.7 306.5 529.7 306.2 529.2" fill="none" stroke="#161616" stroke-width="0.9" stroke-linejoin="round" stroke-linecap="round" /><polygon points="270.4,602.0 275.5,602.0 274.9,628.2 271.1,628.2" fill="#fff" stroke="#161616" stroke-width="0.8" stroke-linejoin="round" /><polygon points="270.7,628.2 275.5,628.2 275.2,641.7 271.0,641.7" fill="#e6e6e6" stroke="#161616" stroke-width="0.8" stroke-linejoin="round" /><polygon points="271.7,641.7 274.3,641.7 274.0,645.5 272.0,645.5" fill="#333" stroke="#161616" stroke-width="0.6" stroke-linejoin="round" />
<polygon points="601.5,670.0 564.7,705.2 564.0,712.0 566.2,730.0 569.2,740.5 574.5,753.2 578.2,758.5 576.7,764.5 578.2,766.0 590.2,766.0 591.7,763.7 590.2,751.0 591.7,749.5 599.2,743.5 603.7,733.0 606.7,719.5 615.0,707.5 618.0,698.5 619.5,693.2 630.0,687.2 648.7,683.8 648.7,670.0" fill="#fff" stroke="none" stroke-width="0" stroke-linejoin="round" /><path d="M601.5 670.0 C598.5 672.9 589.6 681.8 583.5 687.7 C577.4 693.6 568.0 701.2 564.7 705.2 C561.5 709.3 563.7 707.9 564.0 712.0 C564.2 716.1 565.4 725.2 566.2 730.0 C567.1 734.7 567.9 736.6 569.2 740.5 C570.6 744.4 573.0 750.2 574.5 753.2 C576.0 756.2 577.6 757.6 578.2 758.5" fill="none" stroke="#161616" stroke-width="1.25" stroke-linejoin="round" stroke-linecap="round" /><polyline points="578.2,758.5 576.7,764.5 578.2,766.0 590.2,766.0 591.7,763.7 590.2,751.0 589.5,746.5" fill="none" stroke="#161616" stroke-width="1.25" stroke-linejoin="round" stroke-linecap="round" /><path d="M648.7 683.8 C645.6 684.4 634.9 685.7 630.0 687.2 C625.1 688.8 621.5 691.4 619.5 693.2 C617.5 695.1 618.7 696.1 618.0 698.5 C617.2 700.9 616.9 704.0 615.0 707.5 C613.1 711.0 608.6 715.2 606.7 719.5 C604.9 723.7 605.0 729.0 603.7 733.0 C602.5 737.0 601.2 740.7 599.2 743.5 C597.2 746.2 593.2 749.0 591.7 749.5 C590.2 750.0 590.5 747.0 590.2 746.5" fill="none" stroke="#161616" stroke-width="1.25" stroke-linejoin="round" stroke-linecap="round" /><path d="M567.7 706.7 C568.1 708.1 568.1 712.4 570.0 715.0 C571.9 717.6 575.7 720.2 579.0 722.5 C582.2 724.7 586.5 728.7 589.5 728.5 C592.5 728.2 595.0 723.6 597.0 721.0 C599.0 718.4 600.6 713.5 601.5 712.7 C602.4 712.0 602.5 713.6 602.2 716.5 C602.0 719.4 600.4 727.7 600.0 730.0" fill="none" stroke="#161616" stroke-width="1.1" stroke-linejoin="round" stroke-linecap="round" /><path d="M565.5 713.5 C567.1 716.0 572.5 724.7 575.2 728.5 C578.0 732.2 579.4 735.0 582.0 736.0 C584.6 737.0 588.0 735.5 591.0 734.5 C594.0 733.5 598.5 730.7 600.0 730.0" fill="none" stroke="#161616" stroke-width="1.1" stroke-linejoin="round" stroke-linecap="round" /><path d="M593.2 737.5 C594.1 736.2 596.7 734.0 597.7 733.7 C598.7 733.5 599.7 734.6 599.2 736.0 C598.7 737.4 595.9 741.1 594.7 742.0 C593.6 742.9 592.7 742.0 592.5 741.2 C592.2 740.5 592.4 738.7 593.2 737.5Z" fill="none" stroke="#161616" stroke-width="0.9" stroke-linejoin="round" stroke-linecap="round" /><path d="M570.0 740.5 C571.5 741.0 576.5 742.0 579.0 743.5 C581.5 745.0 584.0 747.2 585.0 749.5 C586.0 751.7 585.7 755.5 585.0 757.0 C584.2 758.5 581.9 759.0 580.5 758.5 C579.1 758.0 577.4 754.7 576.7 754.0" fill="none" stroke="#161616" stroke-width="1.1" stroke-linejoin="round" stroke-linecap="round" /><polyline points="586.5,710.5 592.5,709.7" fill="none" stroke="#161616" stroke-width="0.9" stroke-linejoin="round" stroke-linecap="round" /><polyline points="589.5,710.2 591.0,715.0" fill="none" stroke="#161616" stroke-width="0.9" stroke-linejoin="round" stroke-linecap="round" /><polyline points="588.0,715.0 592.5,714.4" fill="none" stroke="#161616" stroke-width="0.9" stroke-linejoin="round" stroke-linecap="round" /><polyline points="591.7,709.7 603.0,705.2" fill="none" stroke="#161616" stroke-width="0.9" stroke-linejoin="round" stroke-linecap="round" /><path d="M612.0 702.2 C613.1 701.2 617.9 697.7 618.7 696.2 C619.6 694.7 617.5 693.7 617.2 693.2" fill="none" stroke="#161616" stroke-width="0.9" stroke-linejoin="round" stroke-linecap="round" /><polygon points="581.4,766.0 586.5,766.0 585.9,792.2 582.1,792.2" fill="#fff" stroke="#161616" stroke-width="0.8" stroke-linejoin="round" /><polygon points="581.7,792.2 586.5,792.2 586.2,805.7 582.0,805.7" fill="#e6e6e6" stroke="#161616" stroke-width="0.8" stroke-linejoin="round" /><polygon points="582.7,805.7 585.3,805.7 585.0,809.5 583.0,809.5" fill="#333" stroke="#161616" stroke-width="0.6" stroke-linejoin="round" />
<circle cx="199.0" cy="620.0" r="8.1" fill="#fff"/><polygon points="203.0,625.5 199.0,632.0 195.0,625.5" fill="#fff" stroke="#fff" stroke-width="2.6" stroke-linejoin="round"/><circle cx="199.0" cy="620.0" r="6.8" fill="#1c1c1c"/><polygon points="203.0,625.5 199.0,632.0 195.0,625.5" fill="#1c1c1c"/><text x="199.0" y="623.5" font-size="10" font-weight="bold" fill="#fff" text-anchor="middle" textLength="5.2" lengthAdjust="spacingAndGlyphs">2</text>
<circle cx="325.2" cy="694.2" r="8.1" fill="#fff"/><polygon points="329.2,699.7 325.2,706.2 321.2,699.7" fill="#fff" stroke="#fff" stroke-width="2.6" stroke-linejoin="round"/><circle cx="325.2" cy="694.2" r="6.8" fill="#1c1c1c"/><polygon points="329.2,699.7 325.2,706.2 321.2,699.7" fill="#1c1c1c"/><text x="325.2" y="697.7" font-size="10" font-weight="bold" fill="#fff" text-anchor="middle" textLength="5.2" lengthAdjust="spacingAndGlyphs">2</text>
<circle cx="400.5" cy="733.5" r="6.8" fill="#1c1c1c"/><polygon points="395.0,737.5 388.5,733.5 395.0,729.5" fill="#1c1c1c"/><text x="400.5" y="737.0" font-size="10" font-weight="bold" fill="#fff" text-anchor="middle" textLength="5.2" lengthAdjust="spacingAndGlyphs">4</text>
<circle cx="508.0" cy="782.0" r="8.1" fill="#fff"/><polygon points="512.0,787.5 508.0,794.0 504.0,787.5" fill="#fff" stroke="#fff" stroke-width="2.6" stroke-linejoin="round"/><circle cx="508.0" cy="782.0" r="6.8" fill="#1c1c1c"/><polygon points="512.0,787.5 508.0,794.0 504.0,787.5" fill="#1c1c1c"/><text x="508.0" y="785.5" font-size="10" font-weight="bold" fill="#fff" text-anchor="middle" textLength="5.2" lengthAdjust="spacingAndGlyphs">2</text>
<circle cx="634.0" cy="856.0" r="8.1" fill="#fff"/><polygon points="638.0,861.5 634.0,868.0 630.0,861.5" fill="#fff" stroke="#fff" stroke-width="2.6" stroke-linejoin="round"/><circle cx="634.0" cy="856.0" r="6.8" fill="#1c1c1c"/><polygon points="638.0,861.5 634.0,868.0 630.0,861.5" fill="#1c1c1c"/><text x="634.0" y="859.5" font-size="10" font-weight="bold" fill="#fff" text-anchor="middle" textLength="5.2" lengthAdjust="spacingAndGlyphs">2</text>
<g transform="translate(0.0 495.2)"><polygon points="158.0,470.0 165.0,466.1 192.0,455.0 199.8,456.0 200.5,456.0 200.5,474.7 192.0,469.6 173.4,480.5 172.3,480.5 158.0,471.9" fill="#fff" stroke="#1a1a1a" stroke-width="0.9" stroke-linejoin="round" /><polyline points="158.0,470.0 172.5,478.7 192.0,467.7 199.8,472.6 199.8,456.0" fill="none" stroke="#1a1a1a" stroke-width="0.9" stroke-linejoin="round" stroke-linecap="round" /><path d="M181.9 433.3 C182.7 433.1 184.3 433.7 185.0 434.3 C185.7 435.0 186.0 436.1 186.1 437.1 C186.2 438.2 185.2 439.8 185.7 440.6 C186.3 441.5 188.4 442.0 189.6 442.5 C190.8 443.1 192.5 443.3 193.1 444.1 C193.7 445.0 193.6 446.7 193.4 447.6 C193.3 448.6 192.1 449.0 192.4 449.7 C192.7 450.5 194.6 451.0 195.2 452.2 C195.8 453.4 196.2 455.5 196.0 457.1 C195.9 458.7 195.2 460.7 194.4 462.0 C193.5 463.3 192.1 464.4 191.0 464.7 C189.9 464.9 188.4 464.2 187.5 463.5 C186.6 462.9 186.8 460.9 185.7 460.9 C184.7 461.0 182.9 463.1 181.2 464.1 C179.5 465.1 176.7 465.7 175.6 466.9 C174.5 468.1 175.4 469.8 174.8 471.1 C174.1 472.4 172.7 474.0 171.5 474.5 C170.3 474.9 168.5 474.6 167.5 473.8 C166.6 473.0 166.0 471.2 165.9 469.7 C165.9 468.2 166.5 466.1 167.1 464.8 C167.6 463.5 169.0 463.0 169.3 462.0 C169.6 460.9 168.4 459.5 168.6 458.5 C168.8 457.4 169.8 456.4 170.7 455.7 C171.6 455.0 173.3 455.2 174.2 454.3 C175.1 453.4 175.6 451.8 176.3 450.1 C177.0 448.3 177.9 445.7 178.4 443.8 C178.9 441.9 179.2 440.3 179.4 438.9 C179.7 437.5 179.7 436.3 180.1 435.4 C180.6 434.5 181.1 433.5 181.9 433.3Z" fill="#fff" stroke="#1a1a1a" stroke-width="0.9" stroke-linejoin="round" stroke-linecap="round" /><path d="M184.3 432.6 C185.1 432.4 186.7 433.0 187.4 433.6 C188.1 434.3 188.4 435.4 188.5 436.4 C188.6 437.5 187.6 439.1 188.1 439.9 C188.7 440.8 190.8 441.3 192.0 441.8 C193.2 442.4 194.9 442.6 195.5 443.4 C196.1 444.3 196.0 446.0 195.8 446.9 C195.7 447.9 194.5 448.3 194.8 449.0 C195.1 449.8 197.0 450.3 197.6 451.5 C198.2 452.7 198.6 454.8 198.4 456.4 C198.3 458.0 197.6 460.0 196.8 461.3 C195.9 462.6 194.5 463.7 193.4 464.0 C192.3 464.2 190.8 463.5 189.9 462.8 C189.0 462.2 189.2 460.2 188.1 460.2 C187.1 460.3 185.3 462.4 183.6 463.4 C181.9 464.4 179.1 465.0 178.0 466.2 C176.9 467.4 177.8 469.1 177.2 470.4 C176.5 471.7 175.1 473.3 173.9 473.8 C172.7 474.2 170.9 473.9 169.9 473.1 C169.0 472.3 168.4 470.5 168.3 469.0 C168.3 467.5 168.9 465.4 169.5 464.1 C170.0 462.8 171.4 462.3 171.7 461.3 C172.0 460.2 170.8 458.8 171.0 457.8 C171.2 456.7 172.2 455.7 173.1 455.0 C174.0 454.3 175.7 454.5 176.6 453.6 C177.5 452.7 178.0 451.1 178.7 449.4 C179.4 447.6 180.3 445.0 180.8 443.1 C181.3 441.2 181.6 439.6 181.8 438.2 C182.1 436.8 182.1 435.6 182.5 434.7 C183.0 433.8 183.5 432.8 184.3 432.6Z" fill="#1a1a1a" stroke="#1a1a1a" stroke-width="0.5" stroke-linejoin="round" stroke-linecap="round" /><ellipse cx="173.0" cy="466.8" rx="2.1" ry="4.2" transform="rotate(27 173.0 466.8)" fill="#fff"/><ellipse cx="193.5" cy="456.0" rx="2.1" ry="4.3" transform="rotate(24 193.5 456.0)" fill="#fff"/><polyline points="184.6,448.8 185.7,446.2 187.4,446.5 186.7,447.9 185.3,447.9" fill="none" stroke="#fff" stroke-width="0.6" stroke-linejoin="round" stroke-linecap="round" /></g>
<!-- p80_info.py -->
<rect x="677.7" y="428.2" width="170.6" height="56.2" fill="#fff" stroke="#222" stroke-width="1"/>
<rect x="762.7" y="428.2" width="85.6" height="56.2" fill="#d2d2d4" stroke="#222" stroke-width="1"/>
<line x1="762.7" y1="456" x2="848.3" y2="456" stroke="#222" stroke-width="1"/>
<circle cx="688.0" cy="457.4" r="6.8" fill="#1c1c1c"/><text x="688.0" y="460.8" font-size="9.5" font-weight="bold" fill="#fff" text-anchor="middle" textLength="5" lengthAdjust="spacingAndGlyphs">6</text>
<polygon points="702.0,448.0 713.7,450.2 712.8,459.2 700.2,455.6" fill="#dedede" stroke="#333" stroke-width="0.8" stroke-linejoin="round" /><ellipse cx="701.3" cy="452.0" rx="2.0" ry="3.9" transform="rotate(-12 701.3 452.0)" fill="#ececec" stroke="#333" stroke-width="0.8"/><ellipse cx="715.0" cy="454.7" rx="5.6" ry="7.6" transform="rotate(-6 715.0 454.7)" fill="#b4b4b4" stroke="#333" stroke-width="0.9"/><polygon points="715.0,447.1 722.2,447.7 722.2,464.1 715.0,462.3" fill="#b4b4b4" stroke="none" stroke-width="0" stroke-linejoin="round" /><polyline points="715.0,447.1 722.2,447.7" fill="none" stroke="#333" stroke-width="0.9" stroke-linejoin="round" stroke-linecap="round" /><polyline points="715.0,462.3 722.2,464.1" fill="none" stroke="#333" stroke-width="0.9" stroke-linejoin="round" stroke-linecap="round" /><ellipse cx="722.2" cy="455.8" rx="6.3" ry="8.2" transform="rotate(-6 722.2 455.8)" fill="#cfcfcf" stroke="#333" stroke-width="0.9"/><ellipse cx="722.6" cy="455.8" rx="3.6" ry="4.9" transform="rotate(-6 722.6 455.8)" fill="#f2f2f2" stroke="#333" stroke-width="0.8"/>
<circle cx="803.7" cy="442.1" r="6.4" fill="none" stroke="#222" stroke-width="1.6" stroke-dasharray="7.5 2.5"/>
<line x1="798.2" y1="434.6" x2="812.2" y2="449.6" stroke="#222" stroke-width="1.8" stroke-linecap="round"/>
<circle cx="797.5" cy="434.1" r="1.6" fill="#222"/>
<line x1="788.2" y1="438.6" x2="819.7" y2="445.1" stroke="#222" stroke-width="1"/>
<line x1="790.2" y1="451.1" x2="818.2" y2="433.1" stroke="#222" stroke-width="1"/>
<path d="M776 458.3 L777.6 458.3 L778.3 465.6 L781.2 469.5 L781.2 482.6 L772.2 482.6 L772.2 469.5 L775.2 465.6 Z" fill="#1c1c1c"/>
<text x="776.7" y="480.3" font-size="7.5" font-weight="bold" fill="#fff" text-anchor="middle" textLength="6.4" lengthAdjust="spacingAndGlyphs">LT</text>
<text x="796" y="474.5" font-size="10.8" font-weight="bold" fill="#222" textLength="47.3" lengthAdjust="spacingAndGlyphs">Medium</text>
<rect x="677.3" y="951.3" width="171" height="27.9" fill="#fff" stroke="#222" stroke-width="1"/>
<rect x="762.7" y="951.3" width="85.6" height="27.9" fill="#d2d2d4" stroke="#222" stroke-width="1"/>
<circle cx="688.0" cy="965.3" r="6.8" fill="#1c1c1c"/><text x="688.0" y="968.7" font-size="9.5" font-weight="bold" fill="#fff" text-anchor="middle" textLength="5" lengthAdjust="spacingAndGlyphs">2</text>
<polygon points="702.0,957.2 718.2,960.8 716.8,969.3 700.2,964.4" fill="#dedede" stroke="#333" stroke-width="0.8" stroke-linejoin="round" /><ellipse cx="701.3" cy="960.8" rx="2.0" ry="3.7" transform="rotate(-12 701.3 960.8)" fill="#ececec" stroke="#333" stroke-width="0.8"/><ellipse cx="718.2" cy="964.8" rx="4.8" ry="6.6" transform="rotate(-6 718.2 964.8)" fill="#b4b4b4" stroke="#333" stroke-width="0.9"/><polygon points="718.2,958.1 722.9,958.5 722.9,972.2 718.2,971.5" fill="#b4b4b4" stroke="none" stroke-width="0" stroke-linejoin="round" /><polyline points="718.2,958.1 722.9,958.5" fill="none" stroke="#333" stroke-width="0.9" stroke-linejoin="round" stroke-linecap="round" /><polyline points="718.2,971.5 722.9,972.2" fill="none" stroke="#333" stroke-width="0.9" stroke-linejoin="round" stroke-linecap="round" /><ellipse cx="722.9" cy="965.3" rx="5.2" ry="6.9" transform="rotate(-6 722.9 965.3)" fill="#cfcfcf" stroke="#333" stroke-width="0.9"/><ellipse cx="723.3" cy="965.3" rx="2.9" ry="4.0" transform="rotate(-6 723.3 965.3)" fill="#f2f2f2" stroke="#333" stroke-width="0.8"/>
<circle cx="776.7" cy="964.8" r="7.2" fill="none" stroke="#222" stroke-width="1.6" stroke-dasharray="18.6 4"  transform="rotate(-75 776.7 964.8)"/>
<line x1="768.2" y1="956.8" x2="786.2" y2="973.3" stroke="#222" stroke-width="2" stroke-linecap="round"/>
<circle cx="777.2" cy="965.1" r="2.2" fill="#222"/>
<text x="799.2" y="969.7" font-size="10.8" font-weight="bold" fill="#222" textLength="40.5" lengthAdjust="spacingAndGlyphs">23 N·m</text>
<!-- p90_text.py -->
<rect x="147.6" y="11.4" width="22.6" height="22.6" fill="#fff"/>
<rect x="149" y="13.0" width="19.6" height="19.6" fill="#1c1c1c"/>
<text x="158.8" y="27.6" font-size="13.5" font-weight="bold" fill="#fff" text-anchor="middle">5</text>
<rect x="147.6" y="506.8" width="22.6" height="22.6" fill="#fff"/>
<rect x="149" y="508.4" width="19.6" height="19.6" fill="#1c1c1c"/>
<text x="158.8" y="523.0" font-size="13.5" font-weight="bold" fill="#fff" text-anchor="middle">6</text>
<text x="687.50" y="20.80" font-size="10.1" fill="#3a3a3a" textLength="155.0" lengthAdjust="spacingAndGlyphs" xml:space="preserve">Legen Sie den Lenker <tspan font-weight="bold">zentriert</tspan> auf</text>
<text x="687.50" y="31.60" font-size="10.1" fill="#3a3a3a" textLength="112.5" lengthAdjust="spacingAndGlyphs" xml:space="preserve">die Lenkeraufnahmen (3).</text>
<text x="687.50" y="46.80" font-size="10.1" fill="#3a3a3a" textLength="147.5" lengthAdjust="spacingAndGlyphs" xml:space="preserve">Verschrauben Sie den Lenker mit</text>
<text x="687.50" y="57.80" font-size="10.1" fill="#3a3a3a" textLength="153.7" lengthAdjust="spacingAndGlyphs" xml:space="preserve">den Lenkerklemmen (5) <tspan font-weight="bold">locker</tspan> auf</text>
<text x="687.50" y="68.80" font-size="10.1" fill="#3a3a3a" textLength="116.2" lengthAdjust="spacingAndGlyphs" xml:space="preserve">den Lenkeraufnahmen (3).</text>
<polygon points="688.0,80.6 692.8,72.6 697.6,80.6" fill="#222" stroke="#222" stroke-width="1" stroke-linejoin="round"/><rect x="692.2" y="75.2" width="1.2" height="3.1" fill="#fff"/><rect x="692.2" y="78.9" width="1.2" height="1.2" fill="#fff"/>
<text x="701.20" y="79.80" font-size="10.1" fill="#3a3a3a" textLength="121.8" lengthAdjust="spacingAndGlyphs" xml:space="preserve"><tspan font-weight="bold">WARNUNG: Verwenden Sie</tspan></text>
<text x="687.50" y="90.80" font-size="10.1" fill="#3a3a3a" textLength="135.5" lengthAdjust="spacingAndGlyphs" xml:space="preserve"><tspan font-weight="bold">flüssige Schraubensicherung!</tspan></text>
<text x="687.50" y="101.80" font-size="10.1" fill="#3a3a3a" textLength="148.7" lengthAdjust="spacingAndGlyphs" xml:space="preserve">Ziehen Sie die Schrauben (6) noch</text>
<text x="687.50" y="112.80" font-size="10.1" fill="#3a3a3a" textLength="36.2" lengthAdjust="spacingAndGlyphs" xml:space="preserve">nicht an.</text>
<text x="687.50" y="144.00" font-size="10.1" fill="#3a3a3a" textLength="144.5" lengthAdjust="spacingAndGlyphs" xml:space="preserve">Place the handlebar <tspan font-weight="bold">centered</tspan> on</text>
<text x="687.50" y="154.80" font-size="10.1" fill="#3a3a3a" textLength="113.2" lengthAdjust="spacingAndGlyphs" xml:space="preserve">the handlebar mounts (3).</text>
<text x="687.50" y="170.30" font-size="10.1" fill="#3a3a3a" textLength="149.5" lengthAdjust="spacingAndGlyphs" xml:space="preserve">Attach the handlebar <tspan font-weight="bold">loosely</tspan> onto</text>
<text x="687.50" y="181.50" font-size="10.1" fill="#3a3a3a" textLength="153.7" lengthAdjust="spacingAndGlyphs" xml:space="preserve">the handlebar mounts (3) using the</text>
<text x="687.50" y="192.30" font-size="10.1" fill="#3a3a3a" textLength="95.5" lengthAdjust="spacingAndGlyphs" xml:space="preserve">handlebar clamps (5).</text>
<polygon points="688.0,204.1 692.8,196.1 697.6,204.1" fill="#222" stroke="#222" stroke-width="1" stroke-linejoin="round"/><rect x="692.2" y="198.7" width="1.2" height="3.1" fill="#fff"/><rect x="692.2" y="202.4" width="1.2" height="1.2" fill="#fff"/>
<text x="701.20" y="203.30" font-size="10.1" fill="#3a3a3a" textLength="98.8" lengthAdjust="spacingAndGlyphs" xml:space="preserve"><tspan font-weight="bold">WARNING: Use liquid</tspan></text>
<text x="687.50" y="214.50" font-size="10.1" fill="#3a3a3a" textLength="62.5" lengthAdjust="spacingAndGlyphs" xml:space="preserve"><tspan font-weight="bold">threadlocker!</tspan></text>
<text x="687.50" y="225.30" font-size="10.1" fill="#3a3a3a" textLength="148.2" lengthAdjust="spacingAndGlyphs" xml:space="preserve">Do not fully tighten the screws (6)</text>
<text x="687.50" y="237.00" font-size="10.1" fill="#3a3a3a" textLength="15.0" lengthAdjust="spacingAndGlyphs" xml:space="preserve">yet.</text>
<text x="687.50" y="515.25" font-size="10.1" fill="#3a3a3a" textLength="124.5" lengthAdjust="spacingAndGlyphs" xml:space="preserve">Lösen Sie die Schrauben (4).</text>
<text x="687.50" y="530.75" font-size="10.1" fill="#3a3a3a" textLength="132.5" lengthAdjust="spacingAndGlyphs" xml:space="preserve">Schieben Sie die Lenkerverle-</text>
<text x="687.50" y="542.00" font-size="10.1" fill="#3a3a3a" textLength="142.0" lengthAdjust="spacingAndGlyphs" xml:space="preserve">gungen in Fahrtrichtung, um die</text>
<text x="687.50" y="552.75" font-size="10.1" fill="#3a3a3a" textLength="118.2" lengthAdjust="spacingAndGlyphs" xml:space="preserve">hinteren Schrauben (2) wie</text>
<text x="687.50" y="563.75" font-size="10.1" fill="#3a3a3a" textLength="105.5" lengthAdjust="spacingAndGlyphs" xml:space="preserve">vorgegeben anzuziehen.</text>
<text x="687.50" y="579.25" font-size="10.1" fill="#3a3a3a" textLength="133.2" lengthAdjust="spacingAndGlyphs" xml:space="preserve">Schieben Sie anschließend die</text>
<text x="687.50" y="590.75" font-size="10.1" fill="#3a3a3a" textLength="158.7" lengthAdjust="spacingAndGlyphs" xml:space="preserve">Lenkerrehöhungen in die entgegen-</text>
<text x="687.50" y="601.50" font-size="10.1" fill="#3a3a3a" textLength="156.2" lengthAdjust="spacingAndGlyphs" xml:space="preserve">gesetzte Richtung, um die vorderen</text>
<text x="687.50" y="612.75" font-size="10.1" fill="#3a3a3a" textLength="132.5" lengthAdjust="spacingAndGlyphs" xml:space="preserve">Schrauben (2) wie vorgegeben</text>
<text x="687.50" y="623.75" font-size="10.1" fill="#3a3a3a" textLength="50.0" lengthAdjust="spacingAndGlyphs" xml:space="preserve">anzuziehen.</text>
<text x="687.50" y="654.75" font-size="10.1" fill="#3a3a3a" textLength="98.7" lengthAdjust="spacingAndGlyphs" xml:space="preserve">Loosen the screws (4).</text>
<text x="687.50" y="670.25" font-size="10.1" fill="#3a3a3a" textLength="153.7" lengthAdjust="spacingAndGlyphs" xml:space="preserve">Slide the handlebar bar back in the</text>
<text x="687.50" y="681.50" font-size="10.1" fill="#3a3a3a" textLength="153.7" lengthAdjust="spacingAndGlyphs" xml:space="preserve">driving direction to tighten the rear</text>
<text x="687.50" y="692.75" font-size="10.1" fill="#3a3a3a" textLength="91.7" lengthAdjust="spacingAndGlyphs" xml:space="preserve">bolts (2) as specified.</text>
<text x="687.50" y="708.25" font-size="10.1" fill="#3a3a3a" textLength="148.7" lengthAdjust="spacingAndGlyphs" xml:space="preserve">Then slide the handlebar risers In</text>
<text x="687.50" y="719.00" font-size="10.1" fill="#3a3a3a" textLength="155.7" lengthAdjust="spacingAndGlyphs" xml:space="preserve">the opposite direction to tighten the</text>
<text x="687.50" y="730.25" font-size="10.1" fill="#3a3a3a" textLength="114.5" lengthAdjust="spacingAndGlyphs" xml:space="preserve">front bolts (2) as specified.</text>
</svg></body></html>
